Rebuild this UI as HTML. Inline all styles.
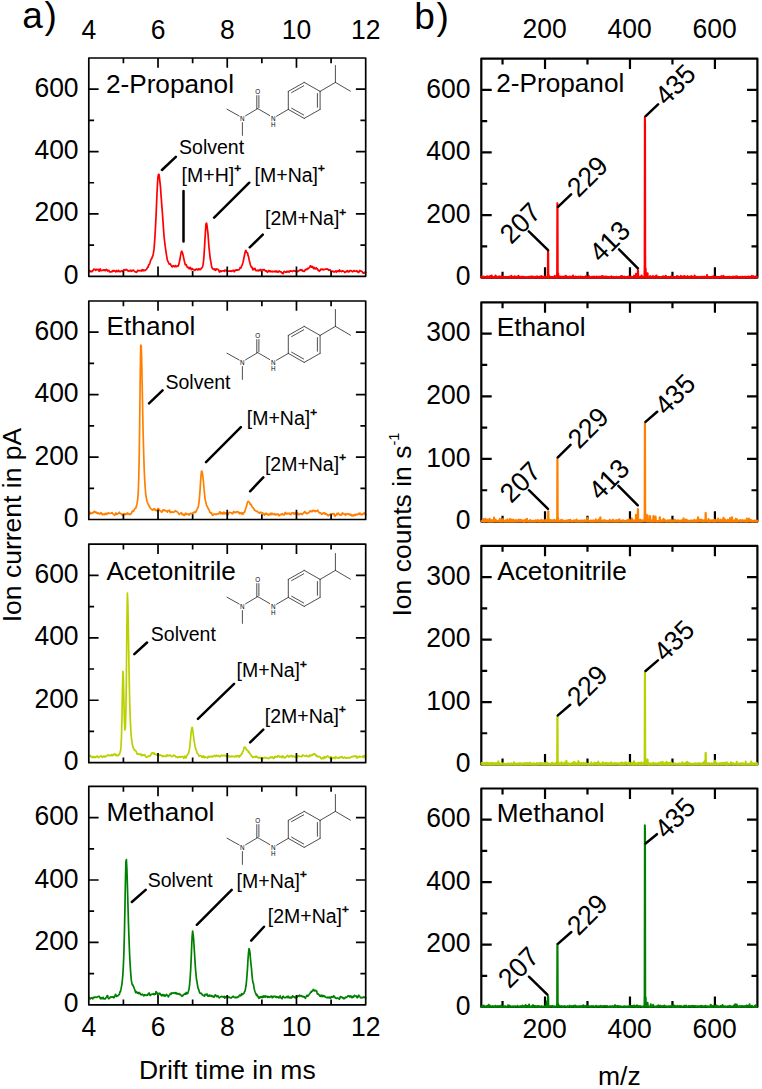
<!DOCTYPE html>
<html><head><meta charset="utf-8"><title>Figure</title>
<style>html,body{margin:0;padding:0;background:#fff}svg{display:block}text{font-family:"Liberation Sans", sans-serif;fill:#000}</style>
</head><body>
<svg width="762" height="1089" viewBox="0 0 762 1089">
<rect width="762" height="1089" fill="#fff"/>
<text x="22.2" y="28.2" font-size="37">a<tspan dx="1.6">)</tspan></text>
<text x="414.2" y="28.5" font-size="37">b<tspan dx="1.6">)</tspan></text>
<text transform="translate(88.8 38.7) scale(1 1.04)" font-size="26.5" text-anchor="middle">4</text>
<text transform="translate(88.8 1035.8) scale(1 1.04)" font-size="26.5" text-anchor="middle">4</text>
<text transform="translate(158.02 38.7) scale(1 1.04)" font-size="26.5" text-anchor="middle">6</text>
<text transform="translate(158.02 1035.8) scale(1 1.04)" font-size="26.5" text-anchor="middle">6</text>
<text transform="translate(227.25 38.7) scale(1 1.04)" font-size="26.5" text-anchor="middle">8</text>
<text transform="translate(227.25 1035.8) scale(1 1.04)" font-size="26.5" text-anchor="middle">8</text>
<text transform="translate(296.47 38.7) scale(1 1.04)" font-size="26.5" text-anchor="middle">10</text>
<text transform="translate(296.47 1035.8) scale(1 1.04)" font-size="26.5" text-anchor="middle">10</text>
<text transform="translate(365.7 38.7) scale(1 1.04)" font-size="26.5" text-anchor="middle">12</text>
<text transform="translate(365.7 1035.8) scale(1 1.04)" font-size="26.5" text-anchor="middle">12</text>
<text transform="translate(544.62 38.3) scale(1 1.04)" font-size="26.5" text-anchor="middle">200</text>
<text transform="translate(544.62 1037.8) scale(1 1.04)" font-size="26.5" text-anchor="middle">200</text>
<text transform="translate(629.57 38.3) scale(1 1.04)" font-size="26.5" text-anchor="middle">400</text>
<text transform="translate(629.57 1037.8) scale(1 1.04)" font-size="26.5" text-anchor="middle">400</text>
<text transform="translate(714.52 38.3) scale(1 1.04)" font-size="26.5" text-anchor="middle">600</text>
<text transform="translate(714.52 1037.8) scale(1 1.04)" font-size="26.5" text-anchor="middle">600</text>
<text x="227.3" y="1079.4" font-size="26.5" text-anchor="middle">Drift time in ms</text>
<text x="619.4" y="1085.2" font-size="26.5" text-anchor="middle">m/z</text>
<text transform="translate(20.9 622.3) rotate(-90)" font-size="26.5">Ion current in pA</text>
<text transform="translate(411.3 616.5) rotate(-90)" font-size="26.5">Ion counts in s<tspan font-size="14.5" dy="-12.5">-1</tspan></text>
<text transform="translate(78.6 283.8) scale(1 1.04)" font-size="26.5" text-anchor="end">0</text>
<text transform="translate(78.6 221.43) scale(1 1.04)" font-size="26.5" text-anchor="end">200</text>
<text transform="translate(78.6 159.06) scale(1 1.04)" font-size="26.5" text-anchor="end">400</text>
<text transform="translate(78.6 96.69) scale(1 1.04)" font-size="26.5" text-anchor="end">600</text>
<path d="M88.8 270.93L89.29 270.54L89.79 270.66L90.28 271.65L90.78 271.38L91.27 271.71L91.77 271.06L92.26 271.52L92.76 270.57L93.25 270.25L93.74 269.11L94.24 269.3L94.73 269.28L95.23 269.87L95.72 270.36L96.22 269.38L96.71 269.61L97.21 269.48L97.7 269.54L98.19 269.28L98.69 270.59L99.18 271.32L99.68 270.38L100.17 268.87L100.67 270.48L101.16 270.67L101.66 270.24L102.15 270.45L102.65 270.44L103.14 270.52L103.63 269.8L104.13 269.95L104.62 269.97L105.12 270.8L105.61 270.21L106.11 269.29L106.6 269.44L107.1 270.1L107.59 271.01L108.08 270.54L108.58 270.32L109.07 270.61L109.57 271.98L110.06 271.87L110.56 272.01L111.05 271.98L111.55 271.31L112.04 271.7L112.53 271.45L113.03 270.42L113.52 271.06L114.02 271L114.51 270.56L115.01 271.04L115.5 271.8L116 271.19L116.49 270.49L116.98 271.6L117.48 271.38L117.97 271.35L118.47 270.28L118.96 271.35L119.46 271.15L119.95 271.73L120.45 271.76L120.94 271.18L121.43 271.06L121.93 270.87L122.42 271.09L122.92 271.69L123.41 270.56L123.91 269.62L124.4 269.97L124.9 270.35L125.39 269.59L125.88 269.65L126.38 269.83L126.87 269.57L127.37 270.47L127.86 270.96L128.36 270.69L128.85 271.27L129.35 270.94L129.84 270.66L130.34 270.33L130.83 270.21L131.32 271.27L131.82 271.14L132.31 270.82L132.81 270.28L133.3 270.02L133.8 270.63L134.29 270.94L134.79 271.7L135.28 271.73L135.77 271.95L136.27 272.37L136.76 272.03L137.26 271.09L137.75 270.27L138.25 270.52L138.74 270.9L139.24 270.84L139.73 270.53L140.22 270.49L140.72 270.52L141.21 270.85L141.71 271.04L142.2 269.68L142.7 269.55L143.19 270.52L143.69 270.04L144.18 270.59L144.67 270.22L145.17 270.33L145.66 269.78L146.16 269.74L146.65 269.26L147.15 268.18L147.64 267.04L148.14 267.21L148.63 264.9L149.12 264.88L149.62 263.85L150.11 262.2L150.61 260.3L151.1 259.35L151.6 258.88L152.09 257.39L152.59 256.54L153.08 255.08L153.57 252.13L154.07 248.91L154.56 242.12L155.06 234.6L155.55 226.11L156.05 215.8L156.54 204.41L157.04 192.75L157.53 182.83L158.02 176.56L158.52 174.4L159.01 174.34L159.51 177.99L160 182.54L160.5 187.15L160.99 194.64L161.49 201.14L161.98 207.86L162.48 214.04L162.97 221.08L163.46 228.32L163.96 235.4L164.45 239.99L164.95 244.33L165.44 247.99L165.94 251.2L166.43 254.79L166.93 257.73L167.42 260.37L167.91 261.4L168.41 262.09L168.9 263.57L169.4 264.1L169.89 264.12L170.39 263.92L170.88 265.21L171.38 265.71L171.87 266.46L172.36 266.92L172.86 266.18L173.35 265.72L173.85 266.26L174.34 266.46L174.84 266.78L175.33 265.55L175.83 266.23L176.32 266.39L176.81 266.68L177.31 265.83L177.8 265.76L178.3 266.03L178.79 264.25L179.29 262.28L179.78 260.02L180.28 257.12L180.77 254.14L181.26 252L181.76 251.23L182.25 252.18L182.75 253.72L183.24 255.91L183.74 258.2L184.23 260.61L184.73 262.44L185.22 264.66L185.71 264.82L186.21 264.61L186.7 265.88L187.2 267.19L187.69 267.29L188.19 267.79L188.68 267.46L189.18 268.8L189.67 267.79L190.17 267.41L190.66 267.82L191.15 269.56L191.65 269.56L192.14 268.56L192.64 268.86L193.13 269.66L193.63 269.56L194.12 269.61L194.62 270.39L195.11 270.19L195.6 269.53L196.1 269.19L196.59 268.97L197.09 269.25L197.58 269.97L198.08 270.02L198.57 268.87L199.07 269L199.56 268.94L200.05 269.87L200.55 269.05L201.04 268.98L201.54 267.89L202.03 267.9L202.53 266.81L203.02 264.67L203.52 261.13L204.01 255.41L204.5 247.6L205 238.9L205.49 230.47L205.99 223.89L206.48 223.08L206.98 225.09L207.47 229.61L207.97 233.58L208.46 240.1L208.95 247.02L209.45 251.68L209.94 255.81L210.44 260.08L210.93 262.03L211.43 265.43L211.92 267.63L212.42 268.26L212.91 268.94L213.4 269.35L213.9 269.17L214.39 269.57L214.89 268.95L215.38 270.33L215.88 269.96L216.37 268.93L216.87 269.49L217.36 269.48L217.86 269.22L218.35 269.8L218.84 270.38L219.34 272.03L219.83 271.93L220.33 270.86L220.82 270.91L221.32 271.47L221.81 271.07L222.31 270.99L222.8 270.75L223.29 270.99L223.79 270.71L224.28 271.26L224.78 270.1L225.27 270.19L225.77 270.77L226.26 270.51L226.76 270.71L227.25 270.66L227.74 271.09L228.24 271.16L228.73 271.25L229.23 271.27L229.72 270.77L230.22 271.13L230.71 271.25L231.21 270.83L231.7 271.31L232.19 270.97L232.69 270.59L233.18 270.32L233.68 270.34L234.17 271.81L234.67 270.93L235.16 270.29L235.66 270.52L236.15 269.72L236.64 269.8L237.14 270.24L237.63 270.15L238.13 269.77L238.62 269.86L239.12 269.75L239.61 268.87L240.11 267.7L240.6 268L241.09 267.83L241.59 265.89L242.08 265.21L242.58 263.92L243.07 262.14L243.57 259.76L244.06 257.27L244.56 254.73L245.05 252.2L245.55 250.92L246.04 250.48L246.53 252.25L247.03 252.74L247.52 252.77L248.02 255.38L248.51 256.52L249.01 259.19L249.5 261.24L250 263.09L250.49 265.32L250.98 266.16L251.48 267.4L251.97 267.18L252.47 268.58L252.96 269.9L253.46 268.61L253.95 269.21L254.45 269.4L254.94 268.36L255.43 269.41L255.93 270.61L256.42 270.61L256.92 270.5L257.41 270.61L257.91 270.22L258.4 270.97L258.9 270.03L259.39 270.27L259.88 270.42L260.38 269.42L260.87 270.84L261.37 270.93L261.86 269.81L262.36 269.78L262.85 269.68L263.35 270.11L263.84 269.63L264.33 269.55L264.83 270.3L265.32 270.91L265.82 271.11L266.31 270.83L266.81 271L267.3 272.29L267.8 271.98L268.29 271.3L268.78 270.59L269.28 270.62L269.77 271.57L270.27 271.55L270.76 270.93L271.26 271.74L271.75 271.58L272.25 271.82L272.74 271.41L273.24 271.25L273.73 271.73L274.22 271.21L274.72 271.33L275.21 271.78L275.71 271.43L276.2 270.89L276.7 271.63L277.19 272.13L277.69 271.49L278.18 272.04L278.67 271.7L279.17 271L279.66 271.48L280.16 271.58L280.65 271.94L281.15 271.78L281.64 272.6L282.14 273.21L282.63 272.78L283.12 273.76L283.62 272.27L284.11 271.27L284.61 271.49L285.1 272.03L285.6 272.23L286.09 271.94L286.59 272.05L287.08 271.22L287.57 271.77L288.07 271.28L288.56 271.53L289.06 272.24L289.55 271.27L290.05 270.76L290.54 270.9L291.04 271.11L291.53 271.06L292.02 271.11L292.52 271.49L293.01 270.95L293.51 270.65L294 270.65L294.5 270.87L294.99 271.14L295.49 271.22L295.98 270.96L296.47 271.73L296.97 272.03L297.46 271.33L297.96 271.47L298.45 270.53L298.95 270.63L299.44 270.65L299.94 270L300.43 269.66L300.93 270.06L301.42 270.4L301.91 269.74L302.41 270.64L302.9 271.21L303.4 271.01L303.89 271.44L304.39 271.34L304.88 270.41L305.38 269.48L305.87 269.58L306.36 269.39L306.86 269.69L307.35 268.62L307.85 268.35L308.34 268.59L308.84 268.06L309.33 267.44L309.83 266.73L310.32 265.76L310.81 265.77L311.31 267.11L311.8 267.12L312.3 266.47L312.79 267.54L313.29 267.26L313.78 268.72L314.28 267.64L314.77 268.56L315.26 268.25L315.76 268.89L316.25 267.84L316.75 268.52L317.24 268.5L317.74 269.93L318.23 269.77L318.73 270.41L319.22 271.31L319.71 270.7L320.21 270.41L320.7 269.3L321.2 269.07L321.69 269.52L322.19 269.33L322.68 269.1L323.18 269.98L323.67 269.64L324.17 269.65L324.66 269.3L325.15 269.16L325.65 268.99L326.14 269.08L326.64 269.09L327.13 269.15L327.63 268.89L328.12 269.75L328.62 270.24L329.11 269.82L329.6 270.08L330.1 269.86L330.59 270.43L331.09 271.2L331.58 271.25L332.08 271.48L332.57 271.44L333.07 271.03L333.56 271.77L334.05 272.05L334.55 271.89L335.04 271.71L335.54 270.97L336.03 271.23L336.53 272.16L337.02 270.96L337.52 271.22L338.01 270.87L338.5 271.2L339 271.68L339.49 269.78L339.99 271.24L340.48 271.07L340.98 271.11L341.47 271.53L341.97 271.1L342.46 270.88L342.95 271.12L343.45 271.11L343.94 271.44L344.44 272.12L344.93 272.55L345.43 271.81L345.92 271.79L346.42 271.06L346.91 271.56L347.4 270.74L347.9 271.66L348.39 271.26L348.89 271.9L349.38 271.77L349.88 270.57L350.37 270.54L350.87 270.62L351.36 270.94L351.85 271.04L352.35 271.78L352.84 271.48L353.34 271.41L353.83 270.61L354.33 270.7L354.82 271.15L355.32 271.26L355.81 271.2L356.31 271.47L356.8 270.63L357.29 271.55L357.79 271.65L358.28 272.6L358.78 272.28L359.27 271.19L359.77 270.43L360.26 270.81L360.76 271.09L361.25 271.17L361.74 271.37L362.24 271.7L362.73 272.56L363.23 273.27L363.72 273.24L364.22 272.73L364.71 272.21L365.21 272.89L365.7 272.53" fill="none" stroke="#ff0000" stroke-width="1.7" stroke-linejoin="round" stroke-linecap="round"/>
<rect x="88.8" y="58" width="276.9" height="218.3" fill="none" stroke="#000" stroke-width="1.7" stroke-linejoin="round"/>
<path d="M158.02 58v9.8M158.02 276.3v-9.8M227.25 58v9.8M227.25 276.3v-9.8M296.47 58v9.8M296.47 276.3v-9.8M123.41 58v5.3M123.41 276.3v-5.3M192.64 58v5.3M192.64 276.3v-5.3M261.86 58v5.3M261.86 276.3v-5.3M331.09 58v5.3M331.09 276.3v-5.3M88.8 213.93h9.8M365.7 213.93h-9.8M88.8 151.56h9.8M365.7 151.56h-9.8M88.8 89.19h9.8M365.7 89.19h-9.8M88.8 245.11h5.3M365.7 245.11h-5.3M88.8 182.74h5.3M365.7 182.74h-5.3M88.8 120.37h5.3M365.7 120.37h-5.3" fill="none" stroke="#000" stroke-width="1.7"/>
<text x="105.9" y="92.5" font-size="26.2">2-Propanol</text>
<path d="M335.4 82.4L335.4 65.5M335.4 82.4L350.4 91.2M335.4 82.4L320.1 91.4M320.1 91.4L304.2 82.4M304.2 82.4L288.3 91.4M288.3 91.4L288.3 109.4M288.3 109.4L304.2 118.4M304.2 118.4L320.1 109.4M320.1 109.4L320.1 91.4M303.66 85.81L291.58 92.65M291.58 108.15L303.66 114.99M317.4 107.24L317.4 93.56M288.3 109.4L276.6 116.2M269.8 115.6L257.7 108.6M256.8 108.6L256.8 95.6M258.9 107.6L258.9 95.6M257.7 108.6L245.6 115.8M239.2 116L227 109.2M242.4 122.6L242.4 135.4" fill="none" stroke="#3a3a3a" stroke-width="0.9" stroke-linecap="round"/><text x="273.3" y="120.9" font-size="6.3" text-anchor="middle" fill="#333">N</text><text x="273.3" y="126.6" font-size="6.3" text-anchor="middle" fill="#333">H</text><text x="257.8" y="94" font-size="6.3" text-anchor="middle" fill="#333">O</text><text x="242.4" y="121" font-size="6.3" text-anchor="middle" fill="#333">N</text>
<path d="M161.94 169.99L175.86 156.81M183.5 191L183.5 241.4M214.13 217.58L249.27 182.72M249.73 247.28L262.77 234.62" stroke="#000" stroke-width="2.5" stroke-linecap="round" fill="none"/>
<text x="179.1" y="153.8" font-size="19.5">Solvent</text>
<text x="181.6" y="181.9" font-size="19.5">[M+H]<tspan font-size="11.6" dy="-9.6" stroke="#000" stroke-width="0.55">+</tspan></text>
<text x="254.6" y="181.8" font-size="19.5">[M+Na]<tspan font-size="11.6" dy="-9.6" stroke="#000" stroke-width="0.55">+</tspan></text>
<text x="265.1" y="225.3" font-size="19.5">[2M+Na]<tspan font-size="11.6" dy="-9.6" stroke="#000" stroke-width="0.55">+</tspan></text>
<text transform="translate(78.6 527) scale(1 1.04)" font-size="26.5" text-anchor="end">0</text>
<text transform="translate(78.6 464.57) scale(1 1.04)" font-size="26.5" text-anchor="end">200</text>
<text transform="translate(78.6 402.14) scale(1 1.04)" font-size="26.5" text-anchor="end">400</text>
<text transform="translate(78.6 339.71) scale(1 1.04)" font-size="26.5" text-anchor="end">600</text>
<path d="M88.8 513.53L89.29 513.55L89.79 512.03L90.28 512.81L90.78 513.81L91.27 513.32L91.77 513.15L92.26 512.74L92.76 513.16L93.25 512.29L93.74 512.35L94.24 511.22L94.73 511.81L95.23 512.35L95.72 511.96L96.22 512.09L96.71 513.19L97.21 512.86L97.7 513.59L98.19 512.87L98.69 513.59L99.18 513.43L99.68 514.06L100.17 513.75L100.67 512.95L101.16 512.67L101.66 513.62L102.15 514.58L102.65 513.87L103.14 514.33L103.63 514.65L104.13 513.93L104.62 514.71L105.12 513.89L105.61 513.27L106.11 513.57L106.6 514.29L107.1 514.26L107.59 513.18L108.08 513.38L108.58 512.83L109.07 513.24L109.57 513.41L110.06 513.44L110.56 513.49L111.05 513.39L111.55 512.99L112.04 512.55L112.53 513.11L113.03 513.89L113.52 514.14L114.02 514.44L114.51 515.26L115.01 514.47L115.5 514.5L116 512.94L116.49 513.53L116.98 514.38L117.48 513.75L117.97 513.66L118.47 513.08L118.96 513.21L119.46 512.25L119.95 513.29L120.45 513.32L120.94 513.76L121.43 514.05L121.93 514.94L122.42 514.06L122.92 514.97L123.41 514.26L123.91 513.83L124.4 513.64L124.9 514.75L125.39 513.92L125.88 514.38L126.38 513.97L126.87 514.21L127.37 512.92L127.86 513.73L128.36 513.94L128.85 513.72L129.35 514.62L129.84 514.47L130.34 514.18L130.83 513.65L131.32 513.64L131.82 512.23L132.31 511.23L132.81 510.95L133.3 511.37L133.8 510.96L134.29 509.57L134.79 508.64L135.28 508.34L135.77 508.32L136.27 506.52L136.76 504.67L137.26 502.46L137.75 498.6L138.25 492.06L138.74 478.97L139.24 455.61L139.73 419.32L140.22 376.1L140.72 345.15L141.21 345.57L141.71 360.72L142.2 385.77L142.7 411.53L143.19 435.5L143.69 453.34L144.18 469.02L144.67 479.38L145.17 487.25L145.66 493.55L146.16 497L146.65 499.73L147.15 501.52L147.64 503.07L148.14 503.99L148.63 504.81L149.12 506.33L149.62 506.45L150.11 507.64L150.61 508.76L151.1 508.95L151.6 509.48L152.09 509.73L152.59 510.21L153.08 509.38L153.57 508.96L154.07 509.71L154.56 508.97L155.06 509.46L155.55 510.17L156.05 510.75L156.54 510.22L157.04 510.27L157.53 510.1L158.02 508.39L158.52 508.68L159.01 509.47L159.51 510.52L160 510.7L160.5 510.98L160.99 511.1L161.49 512.24L161.98 511.35L162.48 511.64L162.97 509.8L163.46 510.28L163.96 509.85L164.45 509.98L164.95 510.75L165.44 510.59L165.94 510.91L166.43 511.08L166.93 511L167.42 512.13L167.91 510.75L168.41 510.51L168.9 510.84L169.4 510.12L169.89 511.19L170.39 512.75L170.88 511.94L171.38 512.22L171.87 511.92L172.36 512.09L172.86 512.02L173.35 512.49L173.85 512.23L174.34 511.64L174.84 511.58L175.33 510.76L175.83 511.05L176.32 511.36L176.81 511.7L177.31 511.74L177.8 512.23L178.3 513.24L178.79 513.71L179.29 514.46L179.78 513.98L180.28 513.55L180.77 513.14L181.26 512.56L181.76 513.24L182.25 514.68L182.75 514.63L183.24 514.24L183.74 515.19L184.23 515.35L184.73 515.39L185.22 513.54L185.71 513.1L186.21 513.97L186.7 514.33L187.2 514.18L187.69 514.01L188.19 513.94L188.68 514.73L189.18 515.04L189.67 513.77L190.17 513.9L190.66 513.3L191.15 513.57L191.65 513.51L192.14 513.41L192.64 513.63L193.13 512.78L193.63 512.45L194.12 512.71L194.62 512.61L195.11 511.53L195.6 512.31L196.1 511.43L196.59 510.46L197.09 509.23L197.58 508.01L198.08 507.72L198.57 505.07L199.07 502.08L199.56 496.6L200.05 490.09L200.55 481.89L201.04 475.21L201.54 471.11L202.03 471.48L202.53 474.21L203.02 478.24L203.52 482.47L204.01 488.68L204.5 493.31L205 498.37L205.49 500.91L205.99 502.57L206.48 504.99L206.98 506.2L207.47 506.71L207.97 508.24L208.46 509.01L208.95 509.58L209.45 511.08L209.94 512.32L210.44 512.61L210.93 513.16L211.43 512.66L211.92 514.19L212.42 514.98L212.91 515.35L213.4 514.37L213.9 514.15L214.39 514.03L214.89 514.1L215.38 514.24L215.88 514.52L216.37 514.09L216.87 514.11L217.36 513.82L217.86 513.88L218.35 513.81L218.84 513.79L219.34 512.55L219.83 511.84L220.33 512L220.82 513.89L221.32 513.41L221.81 512.63L222.31 512.75L222.8 513.98L223.29 513.91L223.79 512.06L224.28 512.72L224.78 513.83L225.27 513.64L225.77 512.8L226.26 512.86L226.76 513.63L227.25 514.65L227.74 513.75L228.24 514.38L228.73 513.1L229.23 512.24L229.72 512.26L230.22 512.49L230.71 512.68L231.21 512.85L231.7 513.25L232.19 513.6L232.69 513.8L233.18 512.38L233.68 511.46L234.17 512.04L234.67 512.06L235.16 512.61L235.66 512.64L236.15 511.94L236.64 511.77L237.14 511.68L237.63 511.83L238.13 511.85L238.62 512.8L239.12 512.44L239.61 513.73L240.11 513.26L240.6 512.91L241.09 512.63L241.59 513.87L242.08 512.73L242.58 513.33L243.07 514.26L243.57 513.13L244.06 512.18L244.56 512.17L245.05 510.43L245.55 509.07L246.04 507.46L246.53 506.46L247.03 503.83L247.52 502.2L248.02 501.32L248.51 501.75L249.01 502.08L249.5 502.4L250 503.97L250.49 504.69L250.98 504.32L251.48 505.43L251.97 506.39L252.47 507.53L252.96 507.76L253.46 508.08L253.95 508.96L254.45 510.08L254.94 510.18L255.43 510.25L255.93 511.09L256.42 511.24L256.92 511.38L257.41 511.35L257.91 511.83L258.4 512.61L258.9 512.66L259.39 513.03L259.88 513.07L260.38 512.25L260.87 512.2L261.37 512.72L261.86 512.83L262.36 512.83L262.85 512.96L263.35 513.57L263.84 513.97L264.33 515.27L264.83 514.71L265.32 513.28L265.82 514.17L266.31 513.32L266.81 514.31L267.3 514.68L267.8 513.94L268.29 514.87L268.78 515.14L269.28 514.27L269.77 514.66L270.27 514.29L270.76 513.06L271.26 514.53L271.75 514L272.25 513.33L272.74 514.1L273.24 514.59L273.73 514.27L274.22 514.19L274.72 513.61L275.21 515L275.71 514.96L276.2 514.26L276.7 514.15L277.19 514.61L277.69 514.17L278.18 514.01L278.67 514.78L279.17 515.77L279.66 515.12L280.16 514.86L280.65 514.48L281.15 514.1L281.64 514.65L282.14 514.76L282.63 513.72L283.12 514.24L283.62 514.8L284.11 515L284.61 514.13L285.1 512.76L285.6 512.5L286.09 513.91L286.59 513.74L287.08 514.07L287.57 513.35L288.07 513.29L288.56 513.53L289.06 513.97L289.55 513.02L290.05 514.17L290.54 514.16L291.04 514.59L291.53 513.54L292.02 512.73L292.52 512.85L293.01 512.64L293.51 513.1L294 514.27L294.5 513.96L294.99 512.69L295.49 513.49L295.98 513.11L296.47 514.34L296.97 513.81L297.46 513.04L297.96 513.25L298.45 514.65L298.95 514.26L299.44 514.65L299.94 513.76L300.43 513.64L300.93 513.81L301.42 513.67L301.91 514.41L302.41 514.3L302.9 513.61L303.4 513.43L303.89 512.41L304.39 512.49L304.88 511.49L305.38 512.85L305.87 513.1L306.36 512.97L306.86 513.77L307.35 513.1L307.85 513.11L308.34 512.84L308.84 512.65L309.33 512.04L309.83 511.24L310.32 511.42L310.81 510.74L311.31 511.59L311.8 511.47L312.3 511.55L312.79 510.6L313.29 510.4L313.78 510.86L314.28 510.65L314.77 510.77L315.26 511.72L315.76 510.78L316.25 511.14L316.75 510.97L317.24 510.74L317.74 510.07L318.23 511.04L318.73 512.01L319.22 512.78L319.71 513.03L320.21 512.73L320.7 513L321.2 513.46L321.69 514.26L322.19 514.23L322.68 513.31L323.18 513.14L323.67 513.3L324.17 512.78L324.66 512.81L325.15 514.2L325.65 513.66L326.14 514.36L326.64 513.91L327.13 514.65L327.63 514.87L328.12 515.79L328.62 515.63L329.11 514.9L329.6 514.68L330.1 514.07L330.59 514.33L331.09 514.01L331.58 513.93L332.08 513.96L332.57 513.74L333.07 514.43L333.56 513.63L334.05 513.54L334.55 515.48L335.04 516.37L335.54 515.33L336.03 514.68L336.53 515.07L337.02 513.35L337.52 514.08L338.01 513.73L338.5 513.23L339 514.09L339.49 515L339.99 514.84L340.48 515.09L340.98 514.27L341.47 515.11L341.97 514.11L342.46 512.77L342.95 513.47L343.45 514.03L343.94 513.79L344.44 513.94L344.93 514.6L345.43 515.29L345.92 513.73L346.42 514.53L346.91 514.35L347.4 514L347.9 513.68L348.39 513.73L348.89 514.6L349.38 514.3L349.88 514.07L350.37 515.05L350.87 514.47L351.36 515.69L351.85 515.18L352.35 515.69L352.84 515.89L353.34 514.99L353.83 515.76L354.33 515.11L354.82 514.43L355.32 515.32L355.81 515.11L356.31 514.19L356.8 514.75L357.29 514.66L357.79 514.17L358.28 514L358.78 513.42L359.27 514.29L359.77 513.15L360.26 513.29L360.76 513.93L361.25 514.93L361.74 514.13L362.24 514.15L362.73 514.5L363.23 513.71L363.72 513.23L364.22 512.95L364.71 514.01L365.21 514.45L365.7 514.88" fill="none" stroke="#ff8000" stroke-width="1.7" stroke-linejoin="round" stroke-linecap="round"/>
<rect x="88.8" y="301" width="276.9" height="218.5" fill="none" stroke="#000" stroke-width="1.7" stroke-linejoin="round"/>
<path d="M158.02 301v9.8M158.02 519.5v-9.8M227.25 301v9.8M227.25 519.5v-9.8M296.47 301v9.8M296.47 519.5v-9.8M123.41 301v5.3M123.41 519.5v-5.3M192.64 301v5.3M192.64 519.5v-5.3M261.86 301v5.3M261.86 519.5v-5.3M331.09 301v5.3M331.09 519.5v-5.3M88.8 457.07h9.8M365.7 457.07h-9.8M88.8 394.64h9.8M365.7 394.64h-9.8M88.8 332.21h9.8M365.7 332.21h-9.8M88.8 488.29h5.3M365.7 488.29h-5.3M88.8 425.86h5.3M365.7 425.86h-5.3M88.8 363.43h5.3M365.7 363.43h-5.3" fill="none" stroke="#000" stroke-width="1.7"/>
<text x="106.6" y="335.1" font-size="26.2">Ethanol</text>
<path d="M335.4 326.4L335.4 309.5M335.4 326.4L350.4 335.2M335.4 326.4L320.1 335.4M320.1 335.4L304.2 326.4M304.2 326.4L288.3 335.4M288.3 335.4L288.3 353.4M288.3 353.4L304.2 362.4M304.2 362.4L320.1 353.4M320.1 353.4L320.1 335.4M303.66 329.81L291.58 336.65M291.58 352.15L303.66 358.99M317.4 351.24L317.4 337.56M288.3 353.4L276.6 360.2M269.8 359.6L257.7 352.6M256.8 352.6L256.8 339.6M258.9 351.6L258.9 339.6M257.7 352.6L245.6 359.8M239.2 360L227 353.2M242.4 366.6L242.4 379.4" fill="none" stroke="#3a3a3a" stroke-width="0.9" stroke-linecap="round"/><text x="273.3" y="364.9" font-size="6.3" text-anchor="middle" fill="#333">N</text><text x="273.3" y="370.6" font-size="6.3" text-anchor="middle" fill="#333">H</text><text x="257.8" y="338" font-size="6.3" text-anchor="middle" fill="#333">O</text><text x="242.4" y="365" font-size="6.3" text-anchor="middle" fill="#333">N</text>
<path d="M149.03 403.38L162.57 390.42M206.02 462.17L240.88 427.13M250.11 491.27L263.29 477.43" stroke="#000" stroke-width="2.5" stroke-linecap="round" fill="none"/>
<text x="165.5" y="389.2" font-size="19.5">Solvent</text>
<text x="246.8" y="425.3" font-size="19.5">[M+Na]<tspan font-size="11.6" dy="-9.6" stroke="#000" stroke-width="0.55">+</tspan></text>
<text x="264.9" y="470.8" font-size="19.5">[2M+Na]<tspan font-size="11.6" dy="-9.6" stroke="#000" stroke-width="0.55">+</tspan></text>
<text transform="translate(78.6 770.2) scale(1 1.04)" font-size="26.5" text-anchor="end">0</text>
<text transform="translate(78.6 707.74) scale(1 1.04)" font-size="26.5" text-anchor="end">200</text>
<text transform="translate(78.6 645.29) scale(1 1.04)" font-size="26.5" text-anchor="end">400</text>
<text transform="translate(78.6 582.83) scale(1 1.04)" font-size="26.5" text-anchor="end">600</text>
<path d="M88.8 756.05L89.29 755.73L89.79 755.76L90.28 755.48L90.78 756.43L91.27 756.89L91.77 757.33L92.26 757.55L92.76 756.65L93.25 756.6L93.74 757.19L94.24 757.49L94.73 756.65L95.23 757.35L95.72 757.43L96.22 756.96L96.71 756.32L97.21 755.93L97.7 756.62L98.19 757.37L98.69 757.69L99.18 757.09L99.68 756.84L100.17 756.19L100.67 756L101.16 755.75L101.66 756.65L102.15 757.15L102.65 756.86L103.14 756.46L103.63 756.8L104.13 755.92L104.62 756.89L105.12 756.61L105.61 756.81L106.11 756.2L106.6 755.76L107.1 755.87L107.59 755.51L108.08 754.76L108.58 755.27L109.07 755.48L109.57 755.62L110.06 755.3L110.56 755.35L111.05 755.71L111.55 754.61L112.04 754.94L112.53 755.66L113.03 754.65L113.52 755.02L114.02 754.39L114.51 753.82L115.01 754.64L115.5 755.24L116 754.46L116.49 755.48L116.98 755.81L117.48 755.75L117.97 755.63L118.47 754.4L118.96 754.22L119.46 754.64L119.95 752.69L120.45 751.01L120.94 747.88L121.43 738.3L121.93 719.46L122.42 691.33L122.92 671.4L123.41 679.43L123.91 701.7L124.4 720.99L124.9 729.95L125.39 727.97L125.88 711.68L126.38 677.86L126.87 626.84L127.37 593.09L127.86 603.33L128.36 629.98L128.85 659.91L129.35 686.5L129.84 706.46L130.34 720.64L130.83 730.22L131.32 737.11L131.82 741.01L132.31 744.02L132.81 746.61L133.3 747.93L133.8 748.7L134.29 750L134.79 749.94L135.28 750.74L135.77 751.01L136.27 751.52L136.76 753.15L137.26 754.22L137.75 753.76L138.25 754.05L138.74 754.35L139.24 754.06L139.73 754.07L140.22 754.18L140.72 754.91L141.21 754.2L141.71 755.67L142.2 754.92L142.7 755.32L143.19 754.91L143.69 755.11L144.18 755.14L144.67 754.62L145.17 755.41L145.66 756.61L146.16 756.57L146.65 757.42L147.15 757.05L147.64 756.9L148.14 756.15L148.63 756.24L149.12 755.74L149.62 756.3L150.11 755.58L150.61 755.29L151.1 754.38L151.6 753.06L152.09 752.97L152.59 752.74L153.08 753.46L153.57 753.78L154.07 752.81L154.56 754.19L155.06 754.41L155.55 754.31L156.05 754.14L156.54 754.91L157.04 755.14L157.53 755.05L158.02 754.66L158.52 755.09L159.01 755.5L159.51 754.98L160 754.8L160.5 755.48L160.99 755.41L161.49 755.6L161.98 755.6L162.48 756.49L162.97 756.02L163.46 755.92L163.96 756.48L164.45 756.18L164.95 756.47L165.44 756.51L165.94 756.37L166.43 755.1L166.93 754.93L167.42 755.95L167.91 755.39L168.41 755.89L168.9 755.36L169.4 755.4L169.89 755.17L170.39 755.22L170.88 756L171.38 756.54L171.87 756.48L172.36 756.44L172.86 756L173.35 755.16L173.85 755.82L174.34 755.34L174.84 755.82L175.33 756.08L175.83 757.04L176.32 757.05L176.81 756.79L177.31 757.11L177.8 757.55L178.3 757.42L178.79 756.8L179.29 756.56L179.78 757.22L180.28 756.77L180.77 757.08L181.26 757.35L181.76 756.55L182.25 756.54L182.75 756.65L183.24 756.77L183.74 758.31L184.23 757.07L184.73 756.04L185.22 757.43L185.71 758.08L186.21 757.22L186.7 755.79L187.2 755.08L187.69 754.23L188.19 753.89L188.68 752.93L189.18 750.37L189.67 747.93L190.17 742.83L190.66 737.44L191.15 732.32L191.65 728.86L192.14 727.3L192.64 729.22L193.13 733.19L193.63 736.86L194.12 741.08L194.62 743.33L195.11 746.6L195.6 748.64L196.1 750.11L196.59 750.92L197.09 753.07L197.58 753.41L198.08 754.33L198.57 754.81L199.07 756.26L199.56 755.98L200.05 755.83L200.55 755.77L201.04 755.66L201.54 756.37L202.03 757.25L202.53 756.63L203.02 757.34L203.52 755.75L204.01 756.41L204.5 757.67L205 756.92L205.49 757.01L205.99 757.37L206.48 757.48L206.98 757.43L207.47 757.99L207.97 757.01L208.46 756.39L208.95 756.62L209.45 757.14L209.94 756.88L210.44 756.32L210.93 756.31L211.43 756.63L211.92 756.48L212.42 757.17L212.91 756.48L213.4 755.73L213.9 755.64L214.39 755.5L214.89 755.59L215.38 756.56L215.88 755.67L216.37 755.25L216.87 756.14L217.36 756.21L217.86 755.69L218.35 755.53L218.84 756.23L219.34 756.6L219.83 756.86L220.33 756.21L220.82 755.57L221.32 755.24L221.81 755.61L222.31 755.52L222.8 755.88L223.29 755.26L223.79 755.47L224.28 755.79L224.78 755.18L225.27 755.5L225.77 755.85L226.26 756.41L226.76 756.26L227.25 755.4L227.74 756.29L228.24 755.65L228.73 756.48L229.23 756.82L229.72 756.06L230.22 756.7L230.71 756.75L231.21 756.84L231.7 756.04L232.19 756.01L232.69 756.54L233.18 756.8L233.68 756.54L234.17 756.97L234.67 756.51L235.16 756.03L235.66 755.96L236.15 756.82L236.64 756.02L237.14 756.28L237.63 755.62L238.13 755.74L238.62 756.1L239.12 757.11L239.61 755.7L240.11 756.13L240.6 755.57L241.09 754.73L241.59 753.66L242.08 753.83L242.58 751.92L243.07 751.35L243.57 750.12L244.06 747.65L244.56 747.2L245.05 747.22L245.55 748.23L246.04 748.42L246.53 750.14L247.03 750.15L247.52 750.3L248.02 751.06L248.51 752.35L249.01 751.89L249.5 752.93L250 753.91L250.49 754.39L250.98 755.29L251.48 755.84L251.97 756.58L252.47 756.74L252.96 757.54L253.46 756.86L253.95 756.94L254.45 756.97L254.94 756.74L255.43 757.08L255.93 756.09L256.42 757.18L256.92 757.07L257.41 756.85L257.91 757.24L258.4 757.86L258.9 758.3L259.39 757.39L259.88 757.64L260.38 757.45L260.87 758.56L261.37 758.54L261.86 758L262.36 758L262.85 757.96L263.35 758.37L263.84 757.67L264.33 757.86L264.83 757.52L265.32 757.4L265.82 757.91L266.31 757.9L266.81 757.78L267.3 758.2L267.8 757.98L268.29 758.18L268.78 758.64L269.28 758.09L269.77 757.68L270.27 757.14L270.76 756.95L271.26 757.5L271.75 757.75L272.25 756.89L272.74 757.31L273.24 758.08L273.73 758.44L274.22 758.1L274.72 756.61L275.21 757.37L275.71 756.38L276.2 756.86L276.7 756.9L277.19 757.21L277.69 756.01L278.18 755.53L278.67 756.34L279.17 756.16L279.66 757.09L280.16 757.06L280.65 756.67L281.15 756.79L281.64 756.4L282.14 757.6L282.63 755.93L283.12 756.37L283.62 757.4L284.11 757.49L284.61 757.92L285.1 757.87L285.6 756.85L286.09 756.82L286.59 756.19L287.08 755.87L287.57 755.28L288.07 756.39L288.56 757.12L289.06 756.88L289.55 756.18L290.05 755.81L290.54 756.33L291.04 756.33L291.53 755.65L292.02 755.51L292.52 756.88L293.01 756.42L293.51 756.08L294 756.16L294.5 756.45L294.99 757.44L295.49 756.89L295.98 756.25L296.47 755.99L296.97 757.27L297.46 756.38L297.96 756.05L298.45 755.68L298.95 756.43L299.44 756.29L299.94 756.69L300.43 756.57L300.93 756.4L301.42 756.09L301.91 756.72L302.41 755.93L302.9 754.91L303.4 755.38L303.89 755.54L304.39 755.78L304.88 756.07L305.38 756.17L305.87 756.3L306.36 755.32L306.86 755.47L307.35 756.19L307.85 756.49L308.34 756.33L308.84 756.74L309.33 755.88L309.83 755.07L310.32 755.81L310.81 755.8L311.31 755.48L311.8 755.3L312.3 754.29L312.79 755.04L313.29 754.68L313.78 754.29L314.28 753.54L314.77 754.27L315.26 754.72L315.76 754.64L316.25 756.1L316.75 756.43L317.24 755.93L317.74 756.7L318.23 756.68L318.73 756.51L319.22 756.75L319.71 756.66L320.21 757.14L320.7 758.11L321.2 758.62L321.69 758.95L322.19 758.04L322.68 757.92L323.18 758.07L323.67 758.62L324.17 756.7L324.66 756.9L325.15 757.87L325.65 757.34L326.14 757.41L326.64 756.98L327.13 756.28L327.63 755.96L328.12 756.46L328.62 756.86L329.11 757.21L329.6 757.93L330.1 758.19L330.59 756.72L331.09 757.14L331.58 757.7L332.08 757.76L332.57 758.64L333.07 757.65L333.56 757.77L334.05 757.43L334.55 757.65L335.04 758.6L335.54 756.91L336.03 757.06L336.53 757.61L337.02 757.93L337.52 757.74L338.01 757.66L338.5 758.06L339 758.2L339.49 757.64L339.99 756.83L340.48 757.69L340.98 757.53L341.47 756.98L341.97 756.53L342.46 757.43L342.95 758.03L343.45 758.22L343.94 757.72L344.44 757.03L344.93 757.29L345.43 757.96L345.92 758.24L346.42 757.66L346.91 757.9L347.4 757.96L347.9 757.69L348.39 757.78L348.89 757.56L349.38 758.11L349.88 757.8L350.37 757.22L350.87 757.3L351.36 756.98L351.85 756.68L352.35 756.9L352.84 756.34L353.34 756.26L353.83 756.15L354.33 756.53L354.82 756.56L355.32 755.96L355.81 756.51L356.31 756.04L356.8 757.83L357.29 757.98L357.79 757.58L358.28 756.67L358.78 756.64L359.27 757.06L359.77 756.26L360.26 756.55L360.76 756.72L361.25 756.86L361.74 756.93L362.24 756.86L362.73 756.33L363.23 755.95L363.72 757.6L364.22 755.64L364.71 756.4L365.21 756.27L365.7 757" fill="none" stroke="#b9d100" stroke-width="1.7" stroke-linejoin="round" stroke-linecap="round"/>
<rect x="88.8" y="544.1" width="276.9" height="218.6" fill="none" stroke="#000" stroke-width="1.7" stroke-linejoin="round"/>
<path d="M158.02 544.1v9.8M158.02 762.7v-9.8M227.25 544.1v9.8M227.25 762.7v-9.8M296.47 544.1v9.8M296.47 762.7v-9.8M123.41 544.1v5.3M123.41 762.7v-5.3M192.64 544.1v5.3M192.64 762.7v-5.3M261.86 544.1v5.3M261.86 762.7v-5.3M331.09 544.1v5.3M331.09 762.7v-5.3M88.8 700.24h9.8M365.7 700.24h-9.8M88.8 637.79h9.8M365.7 637.79h-9.8M88.8 575.33h9.8M365.7 575.33h-9.8M88.8 731.47h5.3M365.7 731.47h-5.3M88.8 669.01h5.3M365.7 669.01h-5.3M88.8 606.56h5.3M365.7 606.56h-5.3" fill="none" stroke="#000" stroke-width="1.7"/>
<text x="106.4" y="579.6" font-size="26.2">Acetonitrile</text>
<path d="M335.4 570.4L335.4 553.5M335.4 570.4L350.4 579.2M335.4 570.4L320.1 579.4M320.1 579.4L304.2 570.4M304.2 570.4L288.3 579.4M288.3 579.4L288.3 597.4M288.3 597.4L304.2 606.4M304.2 606.4L320.1 597.4M320.1 597.4L320.1 579.4M303.66 573.81L291.58 580.65M291.58 596.15L303.66 602.99M317.4 595.24L317.4 581.56M288.3 597.4L276.6 604.2M269.8 603.6L257.7 596.6M256.8 596.6L256.8 583.6M258.9 595.6L258.9 583.6M257.7 596.6L245.6 603.8M239.2 604L227 597.2M242.4 610.6L242.4 623.4" fill="none" stroke="#3a3a3a" stroke-width="0.9" stroke-linecap="round"/><text x="273.3" y="608.9" font-size="6.3" text-anchor="middle" fill="#333">N</text><text x="273.3" y="614.6" font-size="6.3" text-anchor="middle" fill="#333">H</text><text x="257.8" y="582" font-size="6.3" text-anchor="middle" fill="#333">O</text><text x="242.4" y="609" font-size="6.3" text-anchor="middle" fill="#333">N</text>
<path d="M134.34 654.19L147.06 642.51M197.93 718.88L234.07 683.82M250.13 742.38L263.27 729.62" stroke="#000" stroke-width="2.5" stroke-linecap="round" fill="none"/>
<text x="150.8" y="641" font-size="19.5">Solvent</text>
<text x="236.6" y="677.1" font-size="19.5">[M+Na]<tspan font-size="11.6" dy="-9.6" stroke="#000" stroke-width="0.55">+</tspan></text>
<text x="264.8" y="722.6" font-size="19.5">[2M+Na]<tspan font-size="11.6" dy="-9.6" stroke="#000" stroke-width="0.55">+</tspan></text>
<text transform="translate(78.6 1012.3) scale(1 1.04)" font-size="26.5" text-anchor="end">0</text>
<text transform="translate(78.6 949.9) scale(1 1.04)" font-size="26.5" text-anchor="end">200</text>
<text transform="translate(78.6 887.5) scale(1 1.04)" font-size="26.5" text-anchor="end">400</text>
<text transform="translate(78.6 825.1) scale(1 1.04)" font-size="26.5" text-anchor="end">600</text>
<path d="M88.8 997.17L89.29 997.57L89.79 997.89L90.28 998.89L90.78 998.33L91.27 997.81L91.77 998.03L92.26 998.07L92.76 998.89L93.25 997.4L93.74 997.25L94.24 997.62L94.73 997.18L95.23 997.1L95.72 997.2L96.22 997.44L96.71 997.39L97.21 997.1L97.7 996.69L98.19 996.45L98.69 996.61L99.18 996.36L99.68 996.95L100.17 998.2L100.67 998.84L101.16 997.64L101.66 998.66L102.15 998.68L102.65 998.16L103.14 997.27L103.63 998.79L104.13 999.02L104.62 998.95L105.12 998.88L105.61 998.36L106.11 997.55L106.6 997.24L107.1 995.63L107.59 995.56L108.08 997.47L108.58 998.62L109.07 998.42L109.57 998.34L110.06 997.35L110.56 997.09L111.05 996.8L111.55 997.15L112.04 997L112.53 996.91L113.03 997.21L113.52 996.77L114.02 997.77L114.51 996.68L115.01 996.2L115.5 994.32L116 995.1L116.49 996.36L116.98 996.27L117.48 995.72L117.97 995.55L118.47 995.48L118.96 994.53L119.46 994.26L119.95 991.92L120.45 991.74L120.94 989.44L121.43 986.78L121.93 984.09L122.42 979.58L122.92 973.99L123.41 964.82L123.91 952.41L124.4 934.26L124.9 909.88L125.39 882.77L125.88 861.76L126.38 859.63L126.87 868.57L127.37 884.31L127.86 901.59L128.36 919.79L128.85 934.67L129.35 948.3L129.84 959.31L130.34 967.67L130.83 974.56L131.32 980.15L131.82 982.72L132.31 984.93L132.81 984.79L133.3 986.27L133.8 987.16L134.29 988.47L134.79 989.71L135.28 991.47L135.77 992.54L136.27 991.52L136.76 992.4L137.26 993.01L137.75 992.67L138.25 993.23L138.74 993.66L139.24 992.47L139.73 992.98L140.22 993.82L140.72 994.34L141.21 994.88L141.71 994.49L142.2 994.17L142.7 994.76L143.19 994.88L143.69 995.84L144.18 995.52L144.67 994.68L145.17 995.3L145.66 995.07L146.16 995.32L146.65 995.28L147.15 994.73L147.64 995.23L148.14 994.1L148.63 993.34L149.12 992.97L149.62 994.11L150.11 995.37L150.61 995.16L151.1 994.55L151.6 994.32L152.09 994.26L152.59 994.07L153.08 994.21L153.57 993.61L154.07 994.64L154.56 994.02L155.06 993.59L155.55 994.07L156.05 991.54L156.54 992.4L157.04 992.9L157.53 994.17L158.02 993.92L158.52 993.84L159.01 993.24L159.51 993.99L160 993.4L160.5 994.71L160.99 994.59L161.49 995.75L161.98 995.27L162.48 994.54L162.97 995.69L163.46 994.89L163.96 994.63L164.45 995.86L164.95 996.15L165.44 996.03L165.94 995.27L166.43 994.27L166.93 995.04L167.42 995.62L167.91 995.51L168.41 996.9L168.9 995.52L169.4 995.06L169.89 994.81L170.39 993.49L170.88 993.72L171.38 994.04L171.87 992.97L172.36 993.25L172.86 993.02L173.35 993.09L173.85 992.93L174.34 992.72L174.84 992.59L175.33 993.57L175.83 992.6L176.32 993.29L176.81 993.81L177.31 993.39L177.8 994.13L178.3 994.04L178.79 993.66L179.29 993.68L179.78 994.63L180.28 994.28L180.77 994.91L181.26 995.66L181.76 996.12L182.25 995.62L182.75 995.97L183.24 994.83L183.74 994.48L184.23 994.36L184.73 993.84L185.22 993.55L185.71 994.35L186.21 992.48L186.7 993.75L187.2 993.05L187.69 993.49L188.19 992.04L188.68 990.32L189.18 988.39L189.67 983.67L190.17 977.78L190.66 969.71L191.15 959.88L191.65 946.58L192.14 936.17L192.64 931.21L193.13 934.57L193.63 939.04L194.12 947.19L194.62 954.79L195.11 963.08L195.6 969.94L196.1 975.3L196.59 980.02L197.09 982.28L197.58 985.77L198.08 988.31L198.57 989.25L199.07 990.67L199.56 992.42L200.05 993.16L200.55 993.07L201.04 993.59L201.54 993.32L202.03 994.74L202.53 994.65L203.02 995.36L203.52 995.54L204.01 995.85L204.5 996.2L205 994.36L205.49 994.79L205.99 994.64L206.48 994.84L206.98 993.94L207.47 995.06L207.97 996.16L208.46 995.54L208.95 996.21L209.45 995.03L209.94 995.93L210.44 996.01L210.93 995.46L211.43 996.31L211.92 996.26L212.42 995.85L212.91 996.79L213.4 996.45L213.9 997.12L214.39 996.73L214.89 995.37L215.38 994.8L215.88 995.54L216.37 995.98L216.87 996.59L217.36 995.98L217.86 995.72L218.35 996.96L218.84 997.39L219.34 997.88L219.83 997.25L220.33 996.89L220.82 996.79L221.32 996.47L221.81 996.34L222.31 996.68L222.8 996.55L223.29 997.17L223.79 996.73L224.28 996.32L224.78 998.16L225.27 996.77L225.77 997.12L226.26 996.81L226.76 997.09L227.25 996.28L227.74 996.85L228.24 996.89L228.73 997.51L229.23 997.49L229.72 997.2L230.22 997.94L230.71 997.81L231.21 997.98L231.7 997.64L232.19 996.87L232.69 996.95L233.18 996.23L233.68 997.08L234.17 997.31L234.67 997.3L235.16 997.73L235.66 997.11L236.15 997.44L236.64 997.62L237.14 997.03L237.63 997.33L238.13 996.96L238.62 996.77L239.12 995.84L239.61 995.05L240.11 995.13L240.6 995.87L241.09 995.21L241.59 993.69L242.08 994.51L242.58 994.71L243.07 993.59L243.57 993.57L244.06 993.31L244.56 991.59L245.05 991.04L245.55 988.18L246.04 985.79L246.53 980.87L247.03 975L247.52 968.07L248.02 959.01L248.51 952.77L249.01 948.68L249.5 949.94L250 952.85L250.49 959.11L250.98 964.11L251.48 968.63L251.97 974.83L252.47 979.45L252.96 982.61L253.46 983.55L253.95 986.97L254.45 989.97L254.94 991.43L255.43 992.78L255.93 993.95L256.42 995.33L256.92 994.41L257.41 996.03L257.91 996.12L258.4 997.35L258.9 998.32L259.39 997.1L259.88 997.76L260.38 996.76L260.87 996.68L261.37 997.31L261.86 996.58L262.36 997.55L262.85 996.69L263.35 995.96L263.84 997.15L264.33 996.86L264.83 995.78L265.32 995.99L265.82 997.13L266.31 996.26L266.81 996.41L267.3 996.37L267.8 997.38L268.29 996.83L268.78 996.58L269.28 997.39L269.77 996.76L270.27 996.97L270.76 996.35L271.26 996.03L271.75 996.94L272.25 997.76L272.74 996.51L273.24 996.28L273.73 997L274.22 996.29L274.72 996.26L275.21 996.35L275.71 997.03L276.2 997.48L276.7 996.54L277.19 996.92L277.69 997.28L278.18 996.91L278.67 997.83L279.17 997.72L279.66 997.6L280.16 995.78L280.65 997.61L281.15 997.57L281.64 997.99L282.14 998.86L282.63 996.89L283.12 996.12L283.62 997.03L284.11 997.42L284.61 997.6L285.1 997.62L285.6 997.77L286.09 997.43L286.59 996.7L287.08 996.74L287.57 996.38L288.07 997.68L288.56 996.41L289.06 997.17L289.55 997.78L290.05 998.04L290.54 997.24L291.04 997.2L291.53 997.88L292.02 997.54L292.52 995.91L293.01 996.21L293.51 996.73L294 997.29L294.5 996.85L294.99 997.52L295.49 997.3L295.98 997.86L296.47 996.88L296.97 997.42L297.46 996.21L297.96 995.89L298.45 996.21L298.95 995.66L299.44 995.27L299.94 996.44L300.43 995.55L300.93 995.68L301.42 995.58L301.91 996.41L302.41 996.75L302.9 996.2L303.4 996.83L303.89 997.03L304.39 996.57L304.88 997.6L305.38 998.35L305.87 997.06L306.36 996.37L306.86 995.33L307.35 995.39L307.85 996.32L308.34 995.54L308.84 994.95L309.33 994.17L309.83 993.56L310.32 992.88L310.81 991.99L311.31 992.19L311.8 991.11L312.3 991.19L312.79 990.7L313.29 989.42L313.78 989.8L314.28 990.66L314.77 990.94L315.26 990.51L315.76 990.34L316.25 990.95L316.75 991.25L317.24 993.81L317.74 994.15L318.23 993.97L318.73 994.74L319.22 994.83L319.71 995.9L320.21 996.11L320.7 995.45L321.2 996.55L321.69 995.22L322.19 995.89L322.68 996.53L323.18 995.46L323.67 996.38L324.17 996.15L324.66 995.94L325.15 996.92L325.65 997.25L326.14 997.34L326.64 997.47L327.13 997.9L327.63 997.08L328.12 997.07L328.62 997.92L329.11 997.95L329.6 997.1L330.1 998L330.59 998.04L331.09 996.9L331.58 996.6L332.08 997.05L332.57 997.03L333.07 997.1L333.56 995.85L334.05 996.02L334.55 996.5L335.04 997.62L335.54 998.04L336.03 997.98L336.53 998.44L337.02 998.18L337.52 998.06L338.01 998.2L338.5 998.34L339 998.95L339.49 999.19L339.99 997.32L340.48 996.61L340.98 996.85L341.47 996.91L341.97 997.2L342.46 997.98L342.95 997.71L343.45 998.71L343.94 998.21L344.44 998.57L344.93 998.22L345.43 997.16L345.92 997.37L346.42 997.45L346.91 996.94L347.4 996.77L347.9 995.91L348.39 996.09L348.89 995.74L349.38 996.42L349.88 996.98L350.37 996.34L350.87 995.82L351.36 996.99L351.85 997.76L352.35 997.63L352.84 996.46L353.34 997.04L353.83 996.57L354.33 995.33L354.82 995.62L355.32 996.04L355.81 996.16L356.31 995.86L356.8 997.4L357.29 997.73L357.79 997.42L358.28 995.92L358.78 995.12L359.27 996.07L359.77 996.25L360.26 997.48L360.76 997.78L361.25 997.5L361.74 997.83L362.24 997.39L362.73 997.64L363.23 997.46L363.72 996.92L364.22 997.47L364.71 997.35L365.21 997.41L365.7 997.9" fill="none" stroke="#008000" stroke-width="1.7" stroke-linejoin="round" stroke-linecap="round"/>
<rect x="88.8" y="786.4" width="276.9" height="218.4" fill="none" stroke="#000" stroke-width="1.7" stroke-linejoin="round"/>
<path d="M158.02 786.4v9.8M158.02 1004.8v-9.8M227.25 786.4v9.8M227.25 1004.8v-9.8M296.47 786.4v9.8M296.47 1004.8v-9.8M123.41 786.4v5.3M123.41 1004.8v-5.3M192.64 786.4v5.3M192.64 1004.8v-5.3M261.86 786.4v5.3M261.86 1004.8v-5.3M331.09 786.4v5.3M331.09 1004.8v-5.3M88.8 942.4h9.8M365.7 942.4h-9.8M88.8 880h9.8M365.7 880h-9.8M88.8 817.6h9.8M365.7 817.6h-9.8M88.8 973.6h5.3M365.7 973.6h-5.3M88.8 911.2h5.3M365.7 911.2h-5.3M88.8 848.8h5.3M365.7 848.8h-5.3" fill="none" stroke="#000" stroke-width="1.7"/>
<text x="106.6" y="820.9" font-size="26.2">Methanol</text>
<path d="M335.4 811.4L335.4 794.5M335.4 811.4L350.4 820.2M335.4 811.4L320.1 820.4M320.1 820.4L304.2 811.4M304.2 811.4L288.3 820.4M288.3 820.4L288.3 838.4M288.3 838.4L304.2 847.4M304.2 847.4L320.1 838.4M320.1 838.4L320.1 820.4M303.66 814.81L291.58 821.65M291.58 837.15L303.66 843.99M317.4 836.24L317.4 822.56M288.3 838.4L276.6 845.2M269.8 844.6L257.7 837.6M256.8 837.6L256.8 824.6M258.9 836.6L258.9 824.6M257.7 837.6L245.6 844.8M239.2 845L227 838.2M242.4 851.6L242.4 864.4" fill="none" stroke="#3a3a3a" stroke-width="0.9" stroke-linecap="round"/><text x="273.3" y="849.9" font-size="6.3" text-anchor="middle" fill="#333">N</text><text x="273.3" y="855.6" font-size="6.3" text-anchor="middle" fill="#333">H</text><text x="257.8" y="823" font-size="6.3" text-anchor="middle" fill="#333">O</text><text x="242.4" y="850" font-size="6.3" text-anchor="middle" fill="#333">N</text>
<path d="M131.85 902L145.65 889.9M196.82 924.78L231.68 889.92M251.21 940.56L263.99 926.74" stroke="#000" stroke-width="2.5" stroke-linecap="round" fill="none"/>
<text x="147.7" y="887.4" font-size="19.5">Solvent</text>
<text x="236.6" y="887.6" font-size="19.5">[M+Na]<tspan font-size="11.6" dy="-9.6" stroke="#000" stroke-width="0.55">+</tspan></text>
<text x="267.8" y="922.6" font-size="19.5">[2M+Na]<tspan font-size="11.6" dy="-9.6" stroke="#000" stroke-width="0.55">+</tspan></text>
<text transform="translate(470.4 285.3) scale(1 1.04)" font-size="26.5" text-anchor="end">0</text>
<text transform="translate(470.4 222.73) scale(1 1.04)" font-size="26.5" text-anchor="end">200</text>
<text transform="translate(470.4 160.16) scale(1 1.04)" font-size="26.5" text-anchor="end">400</text>
<text transform="translate(470.4 97.59) scale(1 1.04)" font-size="26.5" text-anchor="end">600</text>
<rect x="481.3" y="58.6" width="276.1" height="219" fill="none" stroke="#000" stroke-width="2.2" stroke-linejoin="round"/>
<path d="M545.02 58.6v10.4M545.02 277.6v-10.4M629.97 58.6v10.4M629.97 277.6v-10.4M714.92 58.6v10.4M714.92 277.6v-10.4M502.54 58.6v5.9M502.54 277.6v-5.9M587.49 58.6v5.9M587.49 277.6v-5.9M672.45 58.6v5.9M672.45 277.6v-5.9M481.3 215.03h10.4M757.4 215.03h-10.4M481.3 152.46h10.4M757.4 152.46h-10.4M481.3 89.89h10.4M757.4 89.89h-10.4M481.3 246.31h5.9M757.4 246.31h-5.9M481.3 183.74h5.9M757.4 183.74h-5.9M481.3 121.17h5.9M757.4 121.17h-5.9" fill="none" stroke="#000" stroke-width="2.2"/>
<path d="M481.3 277.27L481.51 277.5L481.72 276.51L481.94 277.29L482.15 277.19L482.36 277.56L482.57 277.34L482.79 277.25L483 277.16L483.21 277.27L483.42 277.44L483.64 277.4L483.85 276.58L484.06 277.55L484.27 277.32L484.49 277.36L484.7 277.52L484.91 277.32L485.12 277.6L485.34 276.92L485.55 277.02L485.76 277.55L485.97 277.42L486.18 277.43L486.4 277.14L486.61 277.43L486.82 277.5L487.03 276.14L487.25 276.48L487.46 276.88L487.67 276.79L487.88 276.42L488.1 276.42L488.31 277.42L488.52 277.57L488.73 277.25L488.95 277.01L489.16 277.42L489.37 277.22L489.58 277.37L489.8 276.33L490.01 277.18L490.22 275.93L490.43 277.38L490.64 277.2L490.86 277.52L491.07 277.33L491.28 277.57L491.49 276.82L491.71 275.45L491.92 277.48L492.13 277.28L492.34 277.53L492.56 277.47L492.77 276.87L492.98 276.86L493.19 277.11L493.41 277.3L493.62 277.48L493.83 277.14L494.04 277.45L494.26 277.59L494.47 276.73L494.68 277.19L494.89 277.06L495.11 277.57L495.32 277.28L495.53 275.42L495.74 277.2L495.95 277.33L496.17 277.44L496.38 277.53L496.59 276.83L496.8 277.38L497.02 276.81L497.23 277.39L497.44 277.24L497.65 277.2L497.87 277.54L498.08 276.65L498.29 277.31L498.5 277.23L498.72 277.52L498.93 276.85L499.14 277.1L499.35 276.38L499.57 276.67L499.78 276.78L499.99 276.56L500.2 277.32L500.41 277.46L500.63 277.21L500.84 277.06L501.05 277.59L501.26 276.69L501.48 276.35L501.69 277.11L501.9 276.94L502.11 276.58L502.33 277.57L502.54 277.53L502.75 276.99L502.96 276.94L503.18 277.55L503.39 276.63L503.6 277.19L503.81 276.91L504.03 277.27L504.24 276.96L504.45 277.24L504.66 277.06L504.87 277.15L505.09 277.19L505.3 277.56L505.51 277.12L505.72 276.88L505.94 277.36L506.15 277.13L506.36 277.04L506.57 276.95L506.79 277.38L507 277.54L507.21 277.32L507.42 277.1L507.64 277.2L507.85 277.01L508.06 277.58L508.27 277.28L508.49 276.82L508.7 277.29L508.91 277.21L509.12 277.31L509.33 277.39L509.55 276.8L509.76 277.34L509.97 276.46L510.18 277.16L510.4 277.59L510.61 277.36L510.82 276.59L511.03 277.36L511.25 277.33L511.46 275.71L511.67 277.28L511.88 277.47L512.1 277.58L512.31 277.5L512.52 277.49L512.73 277.47L512.95 277.11L513.16 277.5L513.37 277.6L513.58 277.02L513.79 277.22L514.01 277.34L514.22 276.81L514.43 276.27L514.64 277.21L514.86 277.33L515.07 277.49L515.28 277.22L515.49 277.26L515.71 276.72L515.92 276.57L516.13 277.06L516.34 277.41L516.56 277.49L516.77 277.32L516.98 277.31L517.19 276.68L517.41 277.25L517.62 276.43L517.83 277.47L518.04 277.18L518.25 277.3L518.47 275.73L518.68 277.43L518.89 277.44L519.1 276.73L519.32 276.89L519.53 277.3L519.74 277.44L519.95 276.8L520.17 277.44L520.38 277.01L520.59 277.34L520.8 277.26L521.02 277.23L521.23 277.26L521.44 277.52L521.65 276.75L521.87 277.22L522.08 276.98L522.29 277.14L522.5 277.06L522.72 277.16L522.93 277.14L523.14 276.65L523.35 277.6L523.56 277.35L523.78 277.45L523.99 277.44L524.2 277.34L524.41 277.26L524.63 277.51L524.84 277.08L525.05 277.08L525.26 277.58L525.48 277.23L525.69 277.43L525.9 277.46L526.11 277.42L526.33 277.59L526.54 277.47L526.75 277.5L526.96 277.2L527.18 277.3L527.39 277.33L527.6 277.58L527.81 277.17L528.02 277.36L528.24 277.04L528.45 277.07L528.66 277.57L528.87 277.54L529.09 276.71L529.3 277.34L529.51 277.41L529.72 277.32L529.94 277.52L530.15 276.77L530.36 277.58L530.57 277.52L530.79 277.35L531 277.45L531.21 276.55L531.42 276.88L531.64 276.46L531.85 277L532.06 277.06L532.27 277.58L532.48 277.01L532.7 276.74L532.91 277.51L533.12 277.38L533.33 277.43L533.55 276.76L533.76 276.82L533.97 277.27L534.18 277.25L534.4 277.41L534.61 277.17L534.82 277.49L535.03 277.01L535.25 277.21L535.46 277.02L535.67 277.2L535.88 276.83L536.1 276.55L536.31 277.22L536.52 277.51L536.73 277.12L536.94 276.72L537.16 277.53L537.37 276.38L537.58 277.27L537.79 277.43L538.01 277.5L538.22 276.9L538.43 277.51L538.64 277.36L538.86 277.14L539.07 277.36L539.28 276.69L539.49 277.13L539.71 276.99L539.92 277.49L540.13 276.76L540.34 277.53L540.56 276.76L540.77 277.24L540.98 277.53L541.19 277.25L541.4 275.98L541.62 277L541.83 277.36L542.04 277.5L542.25 277.26L542.47 277.31L542.68 277.22L542.89 276.66L543.1 277.44L543.32 277.42L543.53 277.06L543.74 277.56L543.95 277.16L544.17 277.48L544.38 277.21L544.59 276.55L544.8 277.51L545.02 277.23L545.23 277.41L545.44 277.37L545.65 277.51L545.86 277.57L546.08 277.08L546.29 277.58L546.5 277.22L546.71 277.49L546.93 277.05L547.14 277.33L547.35 276.56L547.56 277.49L547.78 275.45L547.99 250.69L548.2 251.5L548.41 275.99L548.63 275.1L548.84 275.17L549.05 277.44L549.26 277.42L549.48 276.88L549.69 277.14L549.9 277.42L550.11 277.18L550.33 277.25L550.54 277.15L550.75 276.67L550.96 277.31L551.17 277.59L551.39 277.56L551.6 277.21L551.81 277.22L552.02 277.01L552.24 277.48L552.45 277.47L552.66 277.37L552.87 276.93L553.09 277.52L553.3 277.34L553.51 277.25L553.72 277.39L553.94 276.99L554.15 277.26L554.36 277.52L554.57 277.17L554.79 275.67L555 277.36L555.21 277.42L555.42 277.44L555.63 277.59L555.85 277.02L556.06 277.48L556.27 277.55L556.48 277.46L556.7 276.98L556.91 277.36L557.12 271.64L557.33 203.14L557.55 205.37L557.76 273.13L557.97 273.22L558.18 273.35L558.4 276.8L558.61 277.59L558.82 277.29L559.03 277.11L559.25 276.76L559.46 276.62L559.67 277.45L559.88 277.57L560.09 276.79L560.31 276.56L560.52 277.46L560.73 276.97L560.94 276.75L561.16 277.13L561.37 276.71L561.58 277.1L561.79 277.57L562.01 277.54L562.22 277.19L562.43 277.38L562.64 277.38L562.86 277.4L563.07 276.53L563.28 277.07L563.49 277.2L563.71 277.57L563.92 277.44L564.13 277.11L564.34 277.25L564.55 277.1L564.77 277.37L564.98 277.38L565.19 277.29L565.4 275.85L565.62 275.88L565.83 276.82L566.04 277L566.25 277.31L566.47 276.29L566.68 277.36L566.89 276.65L567.1 277.44L567.32 277.48L567.53 277.6L567.74 277.08L567.95 277.29L568.17 277.21L568.38 277.17L568.59 277.5L568.8 277.29L569.01 277.01L569.23 276.43L569.44 276.93L569.65 277.36L569.86 276.69L570.08 276.77L570.29 277.44L570.5 277.19L570.71 277.4L570.93 276.78L571.14 277.56L571.35 276.83L571.56 276.72L571.78 277.11L571.99 277.24L572.2 276.82L572.41 277.3L572.63 276.49L572.84 276.69L573.05 275.5L573.26 277.08L573.47 277.43L573.69 277.57L573.9 277.47L574.11 277.13L574.32 276.99L574.54 277.16L574.75 277.33L574.96 277.54L575.17 277.44L575.39 276.53L575.6 277.18L575.81 277.56L576.02 277.51L576.24 277.18L576.45 277.04L576.66 277.52L576.87 276.81L577.09 277.2L577.3 277.42L577.51 277.15L577.72 276.97L577.93 277.03L578.15 277.48L578.36 277.54L578.57 276.64L578.78 277.35L579 277.09L579.21 277.26L579.42 277.28L579.63 277.55L579.85 277.04L580.06 277.43L580.27 276.52L580.48 277.32L580.7 277.53L580.91 277.51L581.12 277.37L581.33 277.31L581.55 277.42L581.76 276.96L581.97 276.68L582.18 277.12L582.4 277.6L582.61 277.34L582.82 277.04L583.03 277.21L583.24 276.96L583.46 277.09L583.67 277.4L583.88 277.46L584.09 277.14L584.31 277.35L584.52 277.58L584.73 277.55L584.94 276.95L585.16 276.5L585.37 277.19L585.58 277.58L585.79 276.6L586.01 277.28L586.22 277.18L586.43 277.21L586.64 277.27L586.86 277.1L587.07 277.54L587.28 277.32L587.49 277.47L587.7 277.19L587.92 277.06L588.13 277.44L588.34 277.54L588.55 277.51L588.77 275.64L588.98 277.47L589.19 277.54L589.4 277.4L589.62 277.29L589.83 277.31L590.04 277.57L590.25 277.39L590.47 277.2L590.68 277.51L590.89 277.35L591.1 277.27L591.32 277.2L591.53 277.59L591.74 277.18L591.95 276.77L592.16 277.55L592.38 276.8L592.59 277.17L592.8 277.2L593.01 277.09L593.23 277.17L593.44 277.45L593.65 277.4L593.86 276.51L594.08 277.42L594.29 276.95L594.5 277.21L594.71 276.98L594.93 276.98L595.14 277.52L595.35 277.5L595.56 277.56L595.78 277.36L595.99 277.29L596.2 277.6L596.41 276.51L596.62 277.31L596.84 276.88L597.05 277.46L597.26 277.17L597.47 277.51L597.69 277.08L597.9 277.25L598.11 277.41L598.32 276.79L598.54 276.7L598.75 276.87L598.96 277.56L599.17 277.53L599.39 276.82L599.6 277.46L599.81 277.43L600.02 277.53L600.24 277.45L600.45 277.59L600.66 277.38L600.87 277.31L601.08 277.42L601.3 276.31L601.51 277.24L601.72 277.55L601.93 276.47L602.15 277.26L602.36 277.1L602.57 277.06L602.78 276.1L603 277.11L603.21 277.36L603.42 276.75L603.63 277.28L603.85 276.97L604.06 277.47L604.27 277.37L604.48 276.85L604.7 276.65L604.91 276.79L605.12 277.42L605.33 277.46L605.54 276.81L605.76 277L605.97 276.79L606.18 277.35L606.39 277.32L606.61 276.58L606.82 277.11L607.03 277.2L607.24 277.16L607.46 277.07L607.67 277.01L607.88 277.04L608.09 277.19L608.31 276.97L608.52 276.91L608.73 277.27L608.94 277.06L609.16 277.47L609.37 277.35L609.58 277.34L609.79 277.6L610.01 277.27L610.22 277.57L610.43 276.98L610.64 277.02L610.85 277.52L611.07 277.32L611.28 277.24L611.49 276.32L611.7 277.57L611.92 277.45L612.13 277.57L612.34 277.47L612.55 277.56L612.77 277.36L612.98 277.44L613.19 277.24L613.4 277.43L613.62 277L613.83 277.41L614.04 276.84L614.25 277.26L614.47 277L614.68 277.4L614.89 277.25L615.1 277.44L615.31 277.5L615.53 277.15L615.74 277.47L615.95 277.3L616.16 277.37L616.38 277.53L616.59 276.8L616.8 277.26L617.01 277.18L617.23 277.51L617.44 277.57L617.65 277.32L617.86 277.43L618.08 277.47L618.29 277.45L618.5 277.56L618.71 277.15L618.93 277.36L619.14 277.41L619.35 277.31L619.56 277.01L619.77 277L619.99 277.49L620.2 277.27L620.41 276.88L620.62 277.48L620.84 277.03L621.05 276.07L621.26 277.18L621.47 277.09L621.69 276.36L621.9 276.18L622.11 276.08L622.32 276.69L622.54 277.16L622.75 277.21L622.96 277.11L623.17 277.49L623.39 277.04L623.6 277.55L623.81 277.6L624.02 277.23L624.23 276.41L624.45 277.23L624.66 276.94L624.87 276.97L625.08 277.1L625.3 277.13L625.51 277.13L625.72 277.53L625.93 277.31L626.15 277.55L626.36 277.04L626.57 277.46L626.78 277.59L627 277.33L627.21 276.72L627.42 277.17L627.63 277.01L627.85 277.33L628.06 277.41L628.27 276.98L628.48 276.69L628.69 276.49L628.91 276.69L629.12 277.53L629.33 277.21L629.54 277.55L629.76 277.3L629.97 277.17L630.18 276.84L630.39 277.03L630.61 277.46L630.82 277.15L631.03 277.53L631.24 276.64L631.46 277.08L631.67 277.36L631.88 277.37L632.09 277.58L632.31 277.21L632.52 277L632.73 277.39L632.94 277.22L633.15 277.29L633.37 277L633.58 277.51L633.79 277.03L634 275.62L634.22 277.6L634.43 277.4L634.64 277.45L634.85 276.6L635.07 277.33L635.28 277.33L635.49 277.3L635.7 277.3L635.92 273.85L636.13 273.96L636.34 277.14L636.55 277.3L636.77 277.54L636.98 277.38L637.19 277.49L637.4 277.27L637.62 277L637.83 270.09L638.04 270.32L638.25 276.56L638.46 277.24L638.68 277.03L638.89 277.35L639.1 277.19L639.31 276.93L639.53 277.45L639.74 277.18L639.95 277.11L640.16 276.96L640.38 277.08L640.59 277.19L640.8 276.14L641.01 277.37L641.23 277.31L641.44 277.24L641.65 275.45L641.86 277.51L642.08 277.18L642.29 277.56L642.5 277.47L642.71 277.58L642.92 276.98L643.14 277.45L643.35 277.35L643.56 277.01L643.77 276.98L643.99 277.27L644.2 277.33L644.41 277.4L644.62 264.74L644.84 116.79L645.05 121.62L645.26 267.95L645.47 268.21L645.69 268.5L645.9 276.74L646.11 277.49L646.32 277.55L646.54 277.59L646.75 277.43L646.96 277.3L647.17 276.93L647.38 273.22L647.6 273.35L647.81 277.34L648.02 277.55L648.23 277.4L648.45 277.46L648.66 277.44L648.87 277.6L649.08 277.6L649.3 277.33L649.51 277.1L649.72 277.42L649.93 276.15L650.15 277.4L650.36 277.19L650.57 276.28L650.78 277.34L651 277.44L651.21 277.21L651.42 277.45L651.63 277.53L651.84 277.15L652.06 277.39L652.27 277.5L652.48 277.23L652.69 277.41L652.91 276.1L653.12 276.87L653.33 276.91L653.54 277.57L653.76 277.47L653.97 276.86L654.18 277.03L654.39 276.9L654.61 277.24L654.82 277.35L655.03 277.48L655.24 277.48L655.46 276.91L655.67 276.04L655.88 276.64L656.09 277.11L656.3 276.98L656.52 275.41L656.73 277.42L656.94 277.08L657.15 277.48L657.37 277.24L657.58 276.8L657.79 276.96L658 277.26L658.22 277.34L658.43 276.74L658.64 276.78L658.85 277.11L659.07 277.43L659.28 276.92L659.49 277.41L659.7 277.5L659.92 277.24L660.13 277.51L660.34 277.51L660.55 277.55L660.76 277.22L660.98 277.36L661.19 277.34L661.4 277.02L661.61 277.32L661.83 277.45L662.04 277.33L662.25 277.53L662.46 277.35L662.68 277.21L662.89 276.3L663.1 277.28L663.31 277.21L663.53 277.04L663.74 276.91L663.95 276.6L664.16 276.95L664.38 276.71L664.59 276.92L664.8 276.72L665.01 277.45L665.23 277L665.44 276.99L665.65 277.57L665.86 275.68L666.07 277.28L666.29 277.17L666.5 277.52L666.71 277.05L666.92 277.14L667.14 277.5L667.35 277.21L667.56 277.01L667.77 277.53L667.99 277.49L668.2 277.26L668.41 277.57L668.62 276.89L668.84 277.52L669.05 277.31L669.26 277.5L669.47 277.49L669.69 277.09L669.9 277.44L670.11 277.46L670.32 277.38L670.53 276.92L670.75 276.44L670.96 277L671.17 277.34L671.38 277.42L671.6 277.22L671.81 277.18L672.02 276.98L672.23 276.83L672.45 276.87L672.66 277.53L672.87 277.17L673.08 277.42L673.3 277.51L673.51 276.84L673.72 276.81L673.93 276.98L674.15 277.06L674.36 277.44L674.57 277.55L674.78 277.31L674.99 277.49L675.21 276.96L675.42 277.38L675.63 277.36L675.84 277.16L676.06 277.45L676.27 277.45L676.48 277.31L676.69 277.31L676.91 276.1L677.12 277.47L677.33 276.7L677.54 277.35L677.76 277.11L677.97 277.41L678.18 276.57L678.39 277.24L678.61 277.34L678.82 276.88L679.03 276.85L679.24 276.87L679.45 276.92L679.67 277.35L679.88 276.96L680.09 277.29L680.3 277.07L680.52 277.39L680.73 277.53L680.94 275.88L681.15 277.34L681.37 277.5L681.58 277.48L681.79 277.37L682 277.41L682.22 277.05L682.43 277.2L682.64 276.56L682.85 277.13L683.07 277.1L683.28 277.37L683.49 276.55L683.7 277.46L683.91 276.61L684.13 276.79L684.34 276.42L684.55 277.58L684.76 276.07L684.98 277.58L685.19 277.58L685.4 277.44L685.61 276.91L685.83 277.07L686.04 277.14L686.25 277.55L686.46 276.95L686.68 276.81L686.89 277.22L687.1 277.31L687.31 277.46L687.53 276.03L687.74 276.36L687.95 277.52L688.16 277.56L688.38 277.26L688.59 277.07L688.8 277.46L689.01 277.04L689.22 277.53L689.44 277.58L689.65 276.93L689.86 277.51L690.07 276.42L690.29 277.45L690.5 277.4L690.71 277.38L690.92 277.15L691.14 277.5L691.35 277.1L691.56 276.02L691.77 276.93L691.99 276.64L692.2 276.94L692.41 276.77L692.62 277.26L692.84 277.11L693.05 277.35L693.26 277.2L693.47 277.11L693.68 277.58L693.9 277.59L694.11 276.8L694.32 277.58L694.53 275.61L694.75 277.49L694.96 277.6L695.17 276.86L695.38 277.44L695.6 277.17L695.81 276.57L696.02 277.3L696.23 277.17L696.45 277.13L696.66 276.99L696.87 276.98L697.08 277.52L697.3 276.99L697.51 276.81L697.72 277.43L697.93 277.36L698.14 277.27L698.36 277.31L698.57 277.09L698.78 277.27L698.99 277.12L699.21 277.36L699.42 277.26L699.63 277.34L699.84 276.91L700.06 277.34L700.27 277.39L700.48 277.54L700.69 277.21L700.91 277.56L701.12 276.88L701.33 277.2L701.54 277.28L701.76 276.74L701.97 277.33L702.18 277.08L702.39 276.89L702.6 276.8L702.82 277.44L703.03 277.45L703.24 277.13L703.45 277.05L703.67 276.87L703.88 277.53L704.09 277.5L704.3 277.58L704.52 276.63L704.73 277.37L704.94 277.25L705.15 277.19L705.37 277.01L705.58 277.38L705.79 277.57L706 277.01L706.22 277.21L706.43 277.25L706.64 277.26L706.85 276.85L707.06 275.06L707.28 276.95L707.49 277.5L707.7 277.44L707.91 277.37L708.13 277L708.34 277.45L708.55 277.3L708.76 277.12L708.98 277.03L709.19 277.38L709.4 277.03L709.61 277.54L709.83 277.53L710.04 277.57L710.25 277.3L710.46 277.53L710.68 277.11L710.89 277.4L711.1 277.3L711.31 277.13L711.52 276.84L711.74 277.59L711.95 277.34L712.16 277.36L712.37 277.54L712.59 277.09L712.8 276.56L713.01 277.31L713.22 277.08L713.44 276.28L713.65 276.64L713.86 277.43L714.07 276.79L714.29 276.99L714.5 276.82L714.71 277.11L714.92 277.19L715.14 277.26L715.35 277.02L715.56 277.55L715.77 277.44L715.98 277.23L716.2 277.52L716.41 277.43L716.62 276.81L716.83 277L717.05 277.44L717.26 277.46L717.47 277.15L717.68 277.04L717.9 277.43L718.11 277.18L718.32 277.56L718.53 277.07L718.75 277.14L718.96 277.18L719.17 277.08L719.38 277.53L719.6 277.31L719.81 277L720.02 277.28L720.23 277.2L720.45 276.89L720.66 277.25L720.87 277.27L721.08 277.56L721.29 276.94L721.51 276.14L721.72 277.13L721.93 276.77L722.14 277.5L722.36 277.05L722.57 277.42L722.78 276.77L722.99 277.36L723.21 276.69L723.42 275.64L723.63 277.26L723.84 277.34L724.06 277.19L724.27 277.58L724.48 277.04L724.69 277.34L724.91 277.35L725.12 276.85L725.33 277.38L725.54 277.23L725.75 277.28L725.97 277.47L726.18 277.17L726.39 277.55L726.6 277.25L726.82 277.37L727.03 276.86L727.24 277.15L727.45 277.41L727.67 277.41L727.88 277.13L728.09 276.88L728.3 277.58L728.52 277.21L728.73 276.97L728.94 277.18L729.15 276.91L729.37 277.6L729.58 277.28L729.79 276.7L730 276.94L730.21 277.26L730.43 277.32L730.64 277.29L730.85 277.5L731.06 276.96L731.28 276.98L731.49 277.02L731.7 277.6L731.91 277.43L732.13 277.06L732.34 277.4L732.55 276.85L732.76 277.58L732.98 277.38L733.19 276.6L733.4 277.53L733.61 276.99L733.83 276.78L734.04 277.06L734.25 277.31L734.46 277.57L734.67 277.08L734.89 277.05L735.1 277.57L735.31 276.47L735.52 277.3L735.74 276.84L735.95 277.38L736.16 277.23L736.37 277.28L736.59 276.72L736.8 276.23L737.01 277.41L737.22 277.53L737.44 277.54L737.65 277.08L737.86 276.79L738.07 277.44L738.29 277.51L738.5 277.03L738.71 277.23L738.92 277.51L739.13 277.58L739.35 276.91L739.56 276.89L739.77 277.36L739.98 277.12L740.2 277.4L740.41 277.5L740.62 277.46L740.83 276.77L741.05 277L741.26 277.04L741.47 277.18L741.68 277.24L741.9 277.58L742.11 277.14L742.32 276.69L742.53 277.55L742.75 277.29L742.96 277.5L743.17 277.46L743.38 277.38L743.6 276.84L743.81 277.12L744.02 277.09L744.23 277.39L744.44 276.78L744.66 277.57L744.87 277.53L745.08 277.21L745.29 277.34L745.51 276.7L745.72 277.05L745.93 277.45L746.14 277.45L746.36 277.36L746.57 276.72L746.78 277.55L746.99 277.42L747.21 277.5L747.42 277.58L747.63 277.01L747.84 277.33L748.06 277.34L748.27 276.48L748.48 277.05L748.69 277.33L748.9 277.38L749.12 277.36L749.33 277.37L749.54 276.79L749.75 277.22L749.97 277.14L750.18 276.59L750.39 277.17L750.6 276.78L750.82 277.5L751.03 277.43L751.24 277.29L751.45 276.96L751.67 277.27L751.88 275.85L752.09 277.56L752.3 277.57L752.52 277.54L752.73 276.59L752.94 277.28L753.15 276.85L753.36 277.53L753.58 276.24L753.79 277.46L754 277.37L754.21 277.34L754.43 276.69L754.64 276.65L754.85 277.25L755.06 277.44L755.28 276.39L755.49 276.46L755.7 276.91L755.91 277.12L756.13 276.78L756.34 277.37L756.55 277.18L756.76 277.45L756.98 277L757.19 277.07L757.4 277.39" fill="none" stroke="#ff0000" stroke-width="2.0" stroke-linejoin="round"/>
<text x="496.2" y="91.5" font-size="26.2">2-Propanol</text>
<path d="M645.73 116.19L658.07 104.41M558.03 206.89L571.07 194.41M548.07 250.18L528.83 231.42M637.88 268.28L619.02 249.42" stroke="#000" stroke-width="2.5" stroke-linecap="round" fill="none"/>
<text transform="translate(666.3 106.8) rotate(-45) scale(1 1.04)" font-size="26.3" text-anchor="start">435</text>
<text transform="translate(578.6 198.6) rotate(-45) scale(1 1.04)" font-size="26.3" text-anchor="start">229</text>
<text transform="translate(511.3 245.2) rotate(-45) scale(1 1.04)" font-size="26.3" text-anchor="start">207</text>
<text transform="translate(600.7 263.5) rotate(-45) scale(1 1.04)" font-size="26.3" text-anchor="start">413</text>
<text transform="translate(470.4 529.3) scale(1 1.04)" font-size="26.5" text-anchor="end">0</text>
<text transform="translate(470.4 466.64) scale(1 1.04)" font-size="26.5" text-anchor="end">100</text>
<text transform="translate(470.4 403.99) scale(1 1.04)" font-size="26.5" text-anchor="end">200</text>
<text transform="translate(470.4 341.33) scale(1 1.04)" font-size="26.5" text-anchor="end">300</text>
<rect x="481.3" y="302.3" width="276.1" height="219.3" fill="none" stroke="#000" stroke-width="2.2" stroke-linejoin="round"/>
<path d="M545.02 302.3v10.4M545.02 521.6v-10.4M629.97 302.3v10.4M629.97 521.6v-10.4M714.92 302.3v10.4M714.92 521.6v-10.4M502.54 302.3v5.9M502.54 521.6v-5.9M587.49 302.3v5.9M587.49 521.6v-5.9M672.45 302.3v5.9M672.45 521.6v-5.9M481.3 458.94h10.4M757.4 458.94h-10.4M481.3 396.29h10.4M757.4 396.29h-10.4M481.3 333.63h10.4M757.4 333.63h-10.4M481.3 490.27h5.9M757.4 490.27h-5.9M481.3 427.61h5.9M757.4 427.61h-5.9M481.3 364.96h5.9M757.4 364.96h-5.9" fill="none" stroke="#000" stroke-width="2.2"/>
<path d="M481.3 520.23L481.51 521.33L481.72 521.31L481.94 520.81L482.15 520.93L482.36 520.83L482.57 520.69L482.79 521.47L483 521.36L483.21 521.02L483.42 521.08L483.64 518.91L483.85 520.66L484.06 521.1L484.27 521.51L484.49 520.31L484.7 520.78L484.91 521.05L485.12 521.25L485.34 521.28L485.55 518.79L485.76 520.65L485.97 520.76L486.18 521.32L486.4 521.12L486.61 520.56L486.82 520.51L487.03 520.93L487.25 519.77L487.46 521.21L487.67 520.3L487.88 519.53L488.1 521.55L488.31 521.6L488.52 520.14L488.73 521.24L488.95 520.09L489.16 520.66L489.37 521.45L489.58 521.27L489.8 518.79L490.01 521.54L490.22 520.94L490.43 521.45L490.64 520.64L490.86 521.29L491.07 521.58L491.28 521.05L491.49 520.74L491.71 520.97L491.92 520.03L492.13 521.19L492.34 520.89L492.56 521.4L492.77 521.19L492.98 521.1L493.19 521.28L493.41 521.54L493.62 520.99L493.83 520.92L494.04 517.5L494.26 521.35L494.47 521.35L494.68 521.36L494.89 521.14L495.11 520.81L495.32 521.25L495.53 520.96L495.74 519.52L495.95 521.17L496.17 520.95L496.38 520.85L496.59 521.21L496.8 521.11L497.02 521.33L497.23 520.86L497.44 521.2L497.65 521.11L497.87 521L498.08 521.14L498.29 520.79L498.5 521.26L498.72 521.04L498.93 520.81L499.14 520.66L499.35 521.31L499.57 520.25L499.78 518.86L499.99 521.55L500.2 520.96L500.41 520.65L500.63 520.25L500.84 521.37L501.05 520.9L501.26 521.49L501.48 521L501.69 521.53L501.9 520.58L502.11 521.41L502.33 520.88L502.54 519.09L502.75 519.17L502.96 521.31L503.18 521.26L503.39 520.93L503.6 521.22L503.81 520.65L504.03 520.94L504.24 520.87L504.45 521.19L504.66 521.19L504.87 521.5L505.09 521.6L505.3 521.14L505.51 521.55L505.72 520.95L505.94 520.1L506.15 520.89L506.36 521.09L506.57 521.23L506.79 521.4L507 520.16L507.21 521.44L507.42 520.97L507.64 519.23L507.85 521.24L508.06 520.39L508.27 520.87L508.49 521.05L508.7 520.9L508.91 521.06L509.12 521.59L509.33 521.47L509.55 521.35L509.76 521.41L509.97 519.07L510.18 521.52L510.4 521.09L510.61 520.71L510.82 521.58L511.03 519.48L511.25 521.35L511.46 521.32L511.67 521.28L511.88 521.56L512.1 521.3L512.31 521.25L512.52 521.54L512.73 520.48L512.95 519.92L513.16 519.44L513.37 520.94L513.58 521.47L513.79 520.56L514.01 521.22L514.22 521.33L514.43 520.52L514.64 520.44L514.86 521.08L515.07 521.56L515.28 521.36L515.49 520.01L515.71 521.54L515.92 520.42L516.13 521.31L516.34 521.31L516.56 520.98L516.77 520.23L516.98 520.96L517.19 521.2L517.41 520.96L517.62 520.74L517.83 521.41L518.04 521.46L518.25 520.44L518.47 521.12L518.68 519.54L518.89 520.4L519.1 521.31L519.32 521.28L519.53 520.87L519.74 521.12L519.95 520.75L520.17 521.07L520.38 519.78L520.59 521.48L520.8 520.87L521.02 521.01L521.23 521.06L521.44 519.9L521.65 520.84L521.87 521.04L522.08 520.37L522.29 521.34L522.5 521.4L522.72 520.97L522.93 521.57L523.14 521.09L523.35 521.6L523.56 521.07L523.78 521.52L523.99 521.6L524.2 520.12L524.41 520.86L524.63 521.46L524.84 521.4L525.05 520.74L525.26 521.15L525.48 521.58L525.69 521.5L525.9 519.61L526.11 520.75L526.33 520.46L526.54 521.3L526.75 521.28L526.96 518.68L527.18 521.3L527.39 521.21L527.6 521.34L527.81 521.22L528.02 521.45L528.24 521.55L528.45 521.22L528.66 521.56L528.87 521.27L529.09 521.12L529.3 520.52L529.51 521.44L529.72 520.42L529.94 520.25L530.15 520.45L530.36 519.97L530.57 521.39L530.79 520.67L531 521.54L531.21 521.11L531.42 521.24L531.64 521.03L531.85 521.06L532.06 521.43L532.27 521.32L532.48 520.85L532.7 520.85L532.91 521.49L533.12 521.57L533.33 520.98L533.55 521.54L533.76 520.65L533.97 520.91L534.18 521.45L534.4 521.51L534.61 521.5L534.82 520.89L535.03 521.02L535.25 521.35L535.46 520.3L535.67 521.03L535.88 520.9L536.1 521.13L536.31 520.8L536.52 521.28L536.73 520.46L536.94 521.33L537.16 520.89L537.37 521.27L537.58 521.03L537.79 520.05L538.01 521.28L538.22 521.31L538.43 520.62L538.64 521.37L538.86 520.42L539.07 521.55L539.28 521.37L539.49 521.12L539.71 520.83L539.92 520.76L540.13 521.58L540.34 521.52L540.56 521.36L540.77 520.52L540.98 521.59L541.19 520.75L541.4 519.72L541.62 521.32L541.83 520.82L542.04 521.4L542.25 521L542.47 521.03L542.68 521.06L542.89 521.31L543.1 520.4L543.32 521.15L543.53 521.21L543.74 520.64L543.95 520.35L544.17 521.34L544.38 520.95L544.59 520.69L544.8 520.43L545.02 521.08L545.23 520.15L545.44 521.6L545.65 520.01L545.86 520.95L546.08 519.86L546.29 521.34L546.5 520.32L546.71 520.52L546.93 521.21L547.14 521.42L547.35 521.34L547.56 521.13L547.78 521.01L547.99 520.75L548.2 510.95L548.41 511.27L548.63 520.96L548.84 521.51L549.05 519.64L549.26 521.35L549.48 521.41L549.69 521.01L549.9 520.25L550.11 521.29L550.33 521.4L550.54 520.02L550.75 521.22L550.96 521.55L551.17 520.72L551.39 520.41L551.6 520.99L551.81 521.07L552.02 520.61L552.24 520.25L552.45 520.45L552.66 520.93L552.87 521.5L553.09 520.25L553.3 521.01L553.51 521.48L553.72 520.75L553.94 520.89L554.15 520.6L554.36 519.75L554.57 521.2L554.79 520.08L555 521.14L555.21 521.28L555.42 520.38L555.63 521.25L555.85 520.7L556.06 521.4L556.27 521.42L556.48 521.4L556.7 521.06L556.91 521.57L557.12 516.49L557.33 457.69L557.55 459.61L557.76 517.77L557.97 517.84L558.18 517.95L558.4 520.28L558.61 521.34L558.82 521.48L559.03 521.53L559.25 521.12L559.46 521.07L559.67 521.35L559.88 521.14L560.09 520.77L560.31 521.12L560.52 521.31L560.73 520.18L560.94 520.9L561.16 521.34L561.37 521.38L561.58 519.77L561.79 519.67L562.01 521.58L562.22 521.04L562.43 521.48L562.64 520.8L562.86 521.57L563.07 520.75L563.28 521.36L563.49 520.62L563.71 520.98L563.92 521.24L564.13 520.89L564.34 521.26L564.55 521.58L564.77 521.59L564.98 521.48L565.19 520.79L565.4 521.37L565.62 521.44L565.83 521.3L566.04 520.79L566.25 520.87L566.47 521.17L566.68 520.8L566.89 520.76L567.1 521.43L567.32 520.36L567.53 521.28L567.74 520.64L567.95 521.48L568.17 520.3L568.38 520.72L568.59 520.19L568.8 521.16L569.01 520.89L569.23 521.34L569.44 520.08L569.65 520.48L569.86 520.72L570.08 521.28L570.29 519.98L570.5 519.75L570.71 521.2L570.93 521.3L571.14 520.86L571.35 520.77L571.56 521.04L571.78 521.47L571.99 521.05L572.2 521.2L572.41 521.16L572.63 521.51L572.84 521.32L573.05 521.17L573.26 520.84L573.47 520.59L573.69 520.29L573.9 520.77L574.11 520.5L574.32 521.08L574.54 520.8L574.75 521.26L574.96 521.43L575.17 520.16L575.39 521.43L575.6 520.42L575.81 521.56L576.02 520.41L576.24 520.87L576.45 521.58L576.66 519.59L576.87 520.62L577.09 520.68L577.3 520.66L577.51 521.39L577.72 520.79L577.93 521.25L578.15 521.39L578.36 521.58L578.57 521.54L578.78 520.94L579 521.07L579.21 521.12L579.42 520.63L579.63 521.55L579.85 521.1L580.06 520.89L580.27 521.16L580.48 521.41L580.7 521.43L580.91 520.59L581.12 521.55L581.33 521.27L581.55 521.24L581.76 521.31L581.97 520.76L582.18 521.34L582.4 520.36L582.61 521.5L582.82 520.86L583.03 521.49L583.24 521.56L583.46 521.44L583.67 520.89L583.88 521.01L584.09 520.99L584.31 520.76L584.52 520.17L584.73 521.18L584.94 520.98L585.16 521.17L585.37 521.54L585.58 520.58L585.79 520.71L586.01 520.95L586.22 520.65L586.43 521.35L586.64 520.8L586.86 520.82L587.07 521.23L587.28 521.3L587.49 517.84L587.7 517.95L587.92 521.01L588.13 521.05L588.34 520.88L588.55 520.96L588.77 521.13L588.98 521.47L589.19 521.57L589.4 521.42L589.62 521.42L589.83 521.35L590.04 520.94L590.25 521.57L590.47 520.44L590.68 521.19L590.89 521.1L591.1 521.18L591.32 521.52L591.53 521.48L591.74 521.33L591.95 520.56L592.16 520.59L592.38 521.41L592.59 521.21L592.8 521.31L593.01 521.51L593.23 521.33L593.44 521.48L593.65 520.36L593.86 521.26L594.08 521.32L594.29 521.5L594.5 521.12L594.71 521.56L594.93 521.05L595.14 521.45L595.35 520.86L595.56 521.11L595.78 519.23L595.99 520.74L596.2 520.8L596.41 521.22L596.62 521.36L596.84 520.81L597.05 521.01L597.26 520.86L597.47 521.27L597.69 521.12L597.9 521.15L598.11 521.3L598.32 521.19L598.54 519.51L598.75 521.49L598.96 520.71L599.17 521.53L599.39 520.89L599.6 520.9L599.81 520.79L600.02 520.2L600.24 517.21L600.45 517.35L600.66 521.34L600.87 520.81L601.08 521.54L601.3 521.16L601.51 521.02L601.72 521.46L601.93 521.4L602.15 521.12L602.36 521.17L602.57 521.34L602.78 521.02L603 520.2L603.21 521.27L603.42 521.44L603.63 521.38L603.85 521L604.06 521.53L604.27 521.54L604.48 521.12L604.7 520.38L604.91 520.12L605.12 521.41L605.33 520.92L605.54 521.44L605.76 521.15L605.97 521.15L606.18 521.35L606.39 520.74L606.61 521.29L606.82 521.46L607.03 521.23L607.24 521.35L607.46 521.45L607.67 521.44L607.88 520.71L608.09 521.09L608.31 521.57L608.52 521.13L608.73 521.56L608.94 521.52L609.16 521.13L609.37 520.58L609.58 521.21L609.79 519.85L610.01 521.15L610.22 520.6L610.43 521.23L610.64 521.23L610.85 521.37L611.07 521.47L611.28 520.75L611.49 521.27L611.7 520.82L611.92 520.88L612.13 520.83L612.34 521.25L612.55 520.73L612.77 521.32L612.98 519.64L613.19 521.54L613.4 521.1L613.62 521.14L613.83 521.38L614.04 520.6L614.25 521.23L614.47 521.57L614.68 520.66L614.89 521.54L615.1 520.5L615.31 521.55L615.53 521.44L615.74 521.37L615.95 520.74L616.16 520.39L616.38 520.06L616.59 521.54L616.8 521.08L617.01 520.84L617.23 521.07L617.44 521.36L617.65 520.25L617.86 521.12L618.08 521.46L618.29 520.21L618.5 521.36L618.71 520.77L618.93 521.42L619.14 519.28L619.35 520.78L619.56 520.25L619.77 520.51L619.99 521.47L620.2 521.25L620.41 521.44L620.62 520.45L620.84 520.74L621.05 521.23L621.26 521.05L621.47 520.51L621.69 521.12L621.9 520.63L622.11 520.97L622.32 521.43L622.54 520.47L622.75 521.57L622.96 521.31L623.17 521.01L623.39 520.32L623.6 520.64L623.81 520.68L624.02 521.51L624.23 521.57L624.45 521.56L624.66 521.59L624.87 521.46L625.08 521.44L625.3 521.58L625.51 521.59L625.72 521.33L625.93 520.79L626.15 520.78L626.36 520.59L626.57 521.39L626.78 521.3L627 521.47L627.21 521.11L627.42 520.26L627.63 520.97L627.85 521.02L628.06 519.79L628.27 521.59L628.48 521.23L628.69 521.28L628.91 521.34L629.12 521.41L629.33 519.54L629.54 520.55L629.76 521.42L629.97 521.13L630.18 520.72L630.39 521.22L630.61 520.9L630.82 521.27L631.03 521.14L631.24 520.98L631.46 521.51L631.67 520.51L631.88 518.17L632.09 520.85L632.31 520.1L632.52 521.33L632.73 521.43L632.94 520.72L633.15 521.54L633.37 520.26L633.58 520.45L633.79 521.54L634 521.28L634.22 521.18L634.43 521.46L634.64 520.55L634.85 521.3L635.07 521.57L635.28 520.72L635.49 520.99L635.7 521.05L635.92 514.71L636.13 514.91L636.34 521.17L636.55 521.49L636.77 521.2L636.98 521.31L637.19 521.44L637.4 520.36L637.62 520.6L637.83 509.07L638.04 509.44L638.25 520.85L638.46 521.31L638.68 521.43L638.89 520.53L639.1 521.19L639.31 520.77L639.53 521.4L639.74 521.3L639.95 521.02L640.16 519.64L640.38 521.32L640.59 519.78L640.8 521.5L641.01 520.31L641.23 520.51L641.44 520.96L641.65 521.22L641.86 521.18L642.08 520.93L642.29 520.98L642.5 521.27L642.71 520.18L642.92 520.79L643.14 521.19L643.35 521.04L643.56 520.78L643.77 520.94L643.99 520.83L644.2 521.06L644.41 520.59L644.62 513.68L644.84 422.6L645.05 425.57L645.26 515.66L645.47 514.08L645.69 514.31L645.9 521.15L646.11 521.29L646.32 521.35L646.54 521.19L646.75 521.43L646.96 520.82L647.17 521.09L647.38 515.33L647.6 515.52L647.81 521.22L648.02 521.31L648.23 520.34L648.45 521.25L648.66 520.03L648.87 520.32L649.08 521.39L649.3 521.51L649.51 520.22L649.72 521.06L649.93 515.96L650.15 516.13L650.36 521.26L650.57 521.56L650.78 520.95L651 521.49L651.21 521.55L651.42 521.14L651.63 521.58L651.84 521.29L652.06 520.21L652.27 521.46L652.48 521.55L652.69 521.57L652.91 521.47L653.12 520.21L653.33 515.96L653.54 516.13L653.76 520.33L653.97 520.89L654.18 520.53L654.39 521.03L654.61 521.53L654.82 520.87L655.03 521.36L655.24 521L655.46 516.59L655.67 516.74L655.88 521.3L656.09 521.38L656.3 521.11L656.52 521.59L656.73 520.86L656.94 521.46L657.15 521.49L657.37 521.57L657.58 521.38L657.79 521.09L658 521.57L658.22 520.99L658.43 521.54L658.64 521.41L658.85 520.82L659.07 521.6L659.28 520.44L659.49 520.36L659.7 517.21L659.92 517.35L660.13 521.18L660.34 521.04L660.55 521.34L660.76 521.21L660.98 521.49L661.19 521.22L661.4 521.27L661.61 521.42L661.83 521.38L662.04 520.16L662.25 520.93L662.46 520.57L662.68 519.93L662.89 521.42L663.1 519.88L663.31 521.21L663.53 518.66L663.74 521.19L663.95 520.82L664.16 520.85L664.38 520.18L664.59 520.09L664.8 520.44L665.01 521.07L665.23 521.39L665.44 520.14L665.65 521.55L665.86 521.39L666.07 521.46L666.29 520.86L666.5 520.97L666.71 521.51L666.92 521.29L667.14 521.52L667.35 520.99L667.56 520.33L667.77 521.01L667.99 520.65L668.2 520.49L668.41 520.27L668.62 520.44L668.84 521.43L669.05 520.79L669.26 521.29L669.47 521.3L669.69 520.25L669.9 521.39L670.11 521.3L670.32 521.02L670.53 520.67L670.75 520.11L670.96 521.58L671.17 521.54L671.38 520.46L671.6 521.43L671.81 520.51L672.02 520.46L672.23 521.59L672.45 520.42L672.66 521.34L672.87 520.79L673.08 521.24L673.3 521.29L673.51 521.57L673.72 521.19L673.93 521.33L674.15 520.88L674.36 521.19L674.57 521.53L674.78 519.79L674.99 521.55L675.21 520.95L675.42 520.87L675.63 520.29L675.84 520.58L676.06 521.12L676.27 521.15L676.48 521.19L676.69 521.07L676.91 521.15L677.12 520.92L677.33 521.23L677.54 520.57L677.76 520.49L677.97 520.12L678.18 521.59L678.39 521.15L678.61 520.99L678.82 521.59L679.03 521.58L679.24 521.27L679.45 520.78L679.67 521.5L679.88 520.81L680.09 521.13L680.3 521.59L680.52 521.46L680.73 521.23L680.94 520.63L681.15 521.32L681.37 521.41L681.58 521.16L681.79 520.36L682 521.26L682.22 520.77L682.43 520.96L682.64 519.96L682.85 521.02L683.07 521.22L683.28 520.72L683.49 518.18L683.7 521.52L683.91 520.91L684.13 520.84L684.34 520.22L684.55 521.58L684.76 520.27L684.98 521.26L685.19 520.14L685.4 521.33L685.61 519.6L685.83 521.34L686.04 521.04L686.25 521.4L686.46 521.59L686.68 519.73L686.89 521.26L687.1 520.73L687.31 520.45L687.53 521.3L687.74 520.58L687.95 521.42L688.16 521.1L688.38 521.24L688.59 521.17L688.8 521.14L689.01 521.52L689.22 521.15L689.44 520.82L689.65 521.4L689.86 520.88L690.07 521.47L690.29 521.1L690.5 521.47L690.71 521.25L690.92 520.98L691.14 521.25L691.35 520.24L691.56 521.57L691.77 521.44L691.99 521.47L692.2 521.31L692.41 520.93L692.62 520.79L692.84 521.02L693.05 521.19L693.26 520.4L693.47 520.3L693.68 521.3L693.9 520.28L694.11 521.45L694.32 519.72L694.53 521.51L694.75 520.61L694.96 520.42L695.17 521.39L695.38 520.53L695.6 520.57L695.81 520.76L696.02 521.57L696.23 521.58L696.45 520.33L696.66 521.34L696.87 521.54L697.08 520.88L697.3 521.31L697.51 521.19L697.72 519.78L697.93 517.21L698.14 517.35L698.36 521.16L698.57 520.78L698.78 520.4L698.99 520.73L699.21 520.43L699.42 521.26L699.63 519.76L699.84 519.69L700.06 520.89L700.27 521.19L700.48 519.92L700.69 521.25L700.91 519.48L701.12 521.32L701.33 519.78L701.54 521.19L701.76 520.45L701.97 521.53L702.18 519.99L702.39 520.99L702.6 521.47L702.82 521.18L703.03 521.33L703.24 520.8L703.45 520.36L703.67 521.07L703.88 521.39L704.09 520.81L704.3 520.83L704.52 520.93L704.73 520.8L704.94 521.35L705.15 519.71L705.37 520.87L705.58 512.83L705.79 513.09L706 521.07L706.22 520.7L706.43 521.27L706.64 520.95L706.85 521.51L707.06 521.16L707.28 521.46L707.49 520.54L707.7 521.51L707.91 520.83L708.13 520.68L708.34 521.46L708.55 518.93L708.76 521.13L708.98 521.53L709.19 520.22L709.4 521.54L709.61 520.86L709.83 520.99L710.04 521.4L710.25 520.33L710.46 521.42L710.68 521.3L710.89 520.84L711.1 520.99L711.31 520.9L711.52 520.36L711.74 520.95L711.95 521.43L712.16 521.27L712.37 520.65L712.59 520.71L712.8 521.47L713.01 521.14L713.22 520.1L713.44 521.43L713.65 520.74L713.86 521.38L714.07 520.49L714.29 519.77L714.5 520.95L714.71 521.55L714.92 521.1L715.14 520.7L715.35 521.47L715.56 520.93L715.77 521.51L715.98 519.9L716.2 521.1L716.41 521.16L716.62 520.54L716.83 520.92L717.05 520.99L717.26 521.19L717.47 521.31L717.68 520.95L717.9 520.34L718.11 518.44L718.32 521.33L718.53 521.31L718.75 521.32L718.96 521.08L719.17 521.08L719.38 520.65L719.6 521.6L719.81 521.25L720.02 521.1L720.23 520.86L720.45 519.58L720.66 521.53L720.87 521.13L721.08 521.35L721.29 521.21L721.51 520.92L721.72 521.26L721.93 521.24L722.14 521.19L722.36 519.68L722.57 521.14L722.78 521.51L722.99 521.56L723.21 521.21L723.42 517.84L723.63 517.95L723.84 521.03L724.06 521.49L724.27 521.17L724.48 521.16L724.69 521.28L724.91 519.32L725.12 520.91L725.33 521.46L725.54 521.13L725.75 521.05L725.97 521.05L726.18 521.37L726.39 521.32L726.6 520.49L726.82 520.61L727.03 520.5L727.24 521.48L727.45 519.71L727.67 520.97L727.88 521.24L728.09 519.86L728.3 520.53L728.52 521.58L728.73 520.57L728.94 521.56L729.15 521.26L729.37 520.82L729.58 521.49L729.79 521.01L730 517.97L730.21 520.07L730.43 521.11L730.64 520.95L730.85 521.58L731.06 521.46L731.28 521.51L731.49 520.58L731.7 521.03L731.91 517.21L732.13 517.35L732.34 521.29L732.55 520.64L732.76 521.27L732.98 521.24L733.19 521.58L733.4 521.27L733.61 521.27L733.83 520.46L734.04 521.21L734.25 521.05L734.46 520.15L734.67 520.89L734.89 520.14L735.1 521.59L735.31 520.49L735.52 520.67L735.74 518.68L735.95 521.33L736.16 520.88L736.37 521.46L736.59 521.27L736.8 520.95L737.01 519.27L737.22 521.15L737.44 521.58L737.65 520.48L737.86 521.51L738.07 521.44L738.29 521.09L738.5 521.03L738.71 520.62L738.92 520.71L739.13 520.81L739.35 520.59L739.56 521.04L739.77 520.2L739.98 521L740.2 521L740.41 520.08L740.62 521.51L740.83 521.46L741.05 521.31L741.26 521.57L741.47 520.52L741.68 521.3L741.9 521.28L742.11 520.38L742.32 521.09L742.53 520.18L742.75 520.23L742.96 521.12L743.17 521.39L743.38 521.34L743.6 520.46L743.81 520.8L744.02 521.07L744.23 520.9L744.44 521.29L744.66 520.36L744.87 521.37L745.08 521.56L745.29 521.48L745.51 521.05L745.72 520.58L745.93 520.85L746.14 520.79L746.36 521.06L746.57 521.4L746.78 518.54L746.99 521.09L747.21 521.19L747.42 521.24L747.63 520.55L747.84 521.11L748.06 521.57L748.27 520.67L748.48 520.72L748.69 521.3L748.9 518.47L749.12 518.56L749.33 520.98L749.54 519.67L749.75 520.98L749.97 520.69L750.18 520.57L750.39 520.11L750.6 520.81L750.82 519.94L751.03 521.4L751.24 520.8L751.45 520.71L751.67 521.58L751.88 520.58L752.09 520.68L752.3 521.22L752.52 521.48L752.73 521L752.94 521.6L753.15 520.76L753.36 520.75L753.58 521.02L753.79 521.33L754 520.88L754.21 521.01L754.43 520.5L754.64 521.39L754.85 520.48L755.06 521.33L755.28 520.97L755.49 520.89L755.7 521.31L755.91 521.54L756.13 520.99L756.34 521.34L756.55 521.28L756.76 521.58L756.98 521.04L757.19 520.73L757.4 519.69" fill="none" stroke="#ff8000" stroke-width="2.0" stroke-linejoin="round"/>
<text x="496.8" y="335.5" font-size="26.2">Ethanol</text>
<path d="M645.55 421.9L657.15 411.7M557.83 457.38L570.47 444.92M547.97 508.78L528.93 490.22M637.78 505.28L618.42 485.92" stroke="#000" stroke-width="2.5" stroke-linecap="round" fill="none"/>
<text transform="translate(666 416.5) rotate(-45) scale(1 1.04)" font-size="26.3" text-anchor="start">435</text>
<text transform="translate(579.2 450) rotate(-45) scale(1 1.04)" font-size="26.3" text-anchor="start">229</text>
<text transform="translate(511.3 504.2) rotate(-45) scale(1 1.04)" font-size="26.3" text-anchor="start">207</text>
<text transform="translate(600 501.5) rotate(-45) scale(1 1.04)" font-size="26.3" text-anchor="start">413</text>
<text transform="translate(470.4 772.2) scale(1 1.04)" font-size="26.5" text-anchor="end">0</text>
<text transform="translate(470.4 709.74) scale(1 1.04)" font-size="26.5" text-anchor="end">100</text>
<text transform="translate(470.4 647.29) scale(1 1.04)" font-size="26.5" text-anchor="end">200</text>
<text transform="translate(470.4 584.83) scale(1 1.04)" font-size="26.5" text-anchor="end">300</text>
<rect x="481.3" y="545.9" width="276.1" height="218.6" fill="none" stroke="#000" stroke-width="2.2" stroke-linejoin="round"/>
<path d="M545.02 545.9v10.4M545.02 764.5v-10.4M629.97 545.9v10.4M629.97 764.5v-10.4M714.92 545.9v10.4M714.92 764.5v-10.4M502.54 545.9v5.9M502.54 764.5v-5.9M587.49 545.9v5.9M587.49 764.5v-5.9M672.45 545.9v5.9M672.45 764.5v-5.9M481.3 702.04h10.4M757.4 702.04h-10.4M481.3 639.59h10.4M757.4 639.59h-10.4M481.3 577.13h10.4M757.4 577.13h-10.4M481.3 733.27h5.9M757.4 733.27h-5.9M481.3 670.81h5.9M757.4 670.81h-5.9M481.3 608.36h5.9M757.4 608.36h-5.9" fill="none" stroke="#000" stroke-width="2.2"/>
<path d="M481.3 764.41L481.51 763.5L481.72 763.68L481.94 762.84L482.15 763.66L482.36 764.31L482.57 763.44L482.79 763.61L483 764.33L483.21 764.17L483.42 764.45L483.64 764.31L483.85 763.13L484.06 764.25L484.27 763.37L484.49 762.99L484.7 763.81L484.91 763.11L485.12 764.27L485.34 763.28L485.55 764.14L485.76 763.55L485.97 762.89L486.18 762.68L486.4 764.07L486.61 764.34L486.82 763.92L487.03 764.21L487.25 764.12L487.46 763.98L487.67 762.75L487.88 764.33L488.1 764.17L488.31 764.46L488.52 763.81L488.73 763.71L488.95 763.55L489.16 763.13L489.37 764.15L489.58 763.48L489.8 764.04L490.01 763.61L490.22 763.97L490.43 764.34L490.64 763.21L490.86 764.3L491.07 764.37L491.28 762.66L491.49 764.47L491.71 763.68L491.92 764.1L492.13 763.82L492.34 763.57L492.56 764.22L492.77 763.78L492.98 764.41L493.19 763.08L493.41 764.45L493.62 763.49L493.83 763.49L494.04 764.22L494.26 764.21L494.47 763.32L494.68 764.22L494.89 764L495.11 764.32L495.32 764.24L495.53 763.73L495.74 764.06L495.95 763.13L496.17 763.82L496.38 764.11L496.59 763.33L496.8 764.1L497.02 764.43L497.23 763.58L497.44 764.1L497.65 763.59L497.87 763.98L498.08 763.02L498.29 761.38L498.5 761.47L498.72 764.12L498.93 764.41L499.14 763.91L499.35 764.42L499.57 764.32L499.78 764.28L499.99 763.79L500.2 763.72L500.41 763.91L500.63 764.29L500.84 764.5L501.05 763.47L501.26 763.6L501.48 763.2L501.69 763.92L501.9 763.7L502.11 763.75L502.33 764.05L502.54 763.73L502.75 764.12L502.96 764.27L503.18 764.09L503.39 763.36L503.6 764.11L503.81 763.59L504.03 764.3L504.24 764.49L504.45 763.83L504.66 764.26L504.87 764.07L505.09 764.41L505.3 764.31L505.51 764.43L505.72 764.49L505.94 764.07L506.15 763.8L506.36 764.27L506.57 763.86L506.79 764.49L507 764.35L507.21 764.45L507.42 764.25L507.64 763.67L507.85 764.38L508.06 763.47L508.27 763.72L508.49 763.47L508.7 763.57L508.91 763.57L509.12 764.21L509.33 764.12L509.55 764.46L509.76 764.04L509.97 764.37L510.18 763.72L510.4 764.18L510.61 763.71L510.82 764.44L511.03 763.67L511.25 763.63L511.46 764.42L511.67 763.28L511.88 763.87L512.1 764.13L512.31 764.27L512.52 764.04L512.73 764.08L512.95 764L513.16 764.02L513.37 764.26L513.58 764.31L513.79 763.79L514.01 762.19L514.22 764.01L514.43 764.47L514.64 763.99L514.86 763.78L515.07 764.45L515.28 764.2L515.49 763.55L515.71 764.09L515.92 764.49L516.13 764.48L516.34 764.14L516.56 764.28L516.77 763.59L516.98 764.47L517.19 764.13L517.41 764.1L517.62 763.94L517.83 763.43L518.04 764.09L518.25 764.42L518.47 764.35L518.68 764.02L518.89 763.87L519.1 764.24L519.32 764.27L519.53 763.1L519.74 763.62L519.95 763.91L520.17 764.34L520.38 763.92L520.59 763.31L520.8 764.39L521.02 764.44L521.23 764.43L521.44 764.16L521.65 764.07L521.87 764.23L522.08 764.49L522.29 763.49L522.5 764.04L522.72 764.3L522.93 764.18L523.14 764L523.35 764.27L523.56 763.61L523.78 763.7L523.99 764.36L524.2 763.3L524.41 764.11L524.63 764.01L524.84 763.82L525.05 764.01L525.26 762.96L525.48 764.19L525.69 764.48L525.9 764.47L526.11 763.54L526.33 763.59L526.54 764.41L526.75 764.19L526.96 763.52L527.18 762.97L527.39 763.6L527.6 763.67L527.81 763.91L528.02 764.33L528.24 764.06L528.45 763.61L528.66 764.01L528.87 763.16L529.09 763.45L529.3 764.16L529.51 762.58L529.72 764.05L529.94 764.06L530.15 764.22L530.36 763.5L530.57 764.37L530.79 763.94L531 764.32L531.21 763.3L531.42 763.41L531.64 764.4L531.85 763.97L532.06 764.21L532.27 763.62L532.48 764.48L532.7 763.85L532.91 764.3L533.12 764.07L533.33 763.86L533.55 764.34L533.76 763.31L533.97 764.19L534.18 763.52L534.4 764.21L534.61 763.71L534.82 764.22L535.03 764.44L535.25 764.03L535.46 764.2L535.67 764.49L535.88 763.75L536.1 764.43L536.31 764L536.52 764.32L536.73 762.94L536.94 763.99L537.16 763.32L537.37 764.11L537.58 763.94L537.79 764.34L538.01 764.35L538.22 763.7L538.43 764.28L538.64 764.19L538.86 764.08L539.07 763.74L539.28 764.06L539.49 763.16L539.71 762.89L539.92 763.09L540.13 763.4L540.34 764.05L540.56 763.53L540.77 763.32L540.98 763.64L541.19 763.99L541.4 764.25L541.62 764.2L541.83 764.05L542.04 763.08L542.25 763.57L542.47 763.69L542.68 763.46L542.89 764.24L543.1 764.24L543.32 764.01L543.53 763.48L543.74 764.15L543.95 763.98L544.17 763.64L544.38 764.19L544.59 764.34L544.8 764.4L545.02 762.99L545.23 763.48L545.44 763.49L545.65 764.17L545.86 763.88L546.08 763.86L546.29 763.1L546.5 763.73L546.71 764.33L546.93 762.43L547.14 764.33L547.35 763.16L547.56 764.09L547.78 763.71L547.99 764.31L548.2 764.11L548.41 764.38L548.63 763.88L548.84 763.94L549.05 764.42L549.26 764.38L549.48 763.44L549.69 764.35L549.9 763.86L550.11 763.76L550.33 763.67L550.54 764.05L550.75 764.11L550.96 763.84L551.17 764.3L551.39 764.44L551.6 764.04L551.81 764.19L552.02 762.66L552.24 764.41L552.45 763.27L552.66 763.88L552.87 764.14L553.09 763.99L553.3 763.55L553.51 764.1L553.72 764.11L553.94 763.72L554.15 764.47L554.36 764.27L554.57 764.41L554.79 764.18L555 763.77L555.21 763.67L555.42 763.08L555.63 763.64L555.85 764.46L556.06 764.03L556.27 763.84L556.48 764.44L556.7 764.36L556.91 763.93L557.12 760.6L557.33 715.78L557.55 717.24L557.76 761.58L557.97 761.38L558.18 761.47L558.4 764.2L558.61 764.41L558.82 763.35L559.03 764.21L559.25 763.9L559.46 764.17L559.67 763.46L559.88 763.88L560.09 764.49L560.31 764.05L560.52 763.92L560.73 763.44L560.94 764.28L561.16 763.08L561.37 762.33L561.58 763.23L561.79 763.22L562.01 764.19L562.22 763.29L562.43 763.95L562.64 764.4L562.86 763.49L563.07 764.28L563.28 764.22L563.49 764.03L563.71 764L563.92 763.93L564.13 763.99L564.34 762.58L564.55 764.04L564.77 764.12L564.98 764.11L565.19 764.49L565.4 763.99L565.62 763.72L565.83 763.75L566.04 764.2L566.25 760.75L566.47 760.86L566.68 764.28L566.89 763.87L567.1 764.13L567.32 763.82L567.53 763.19L567.74 763.98L567.95 763.52L568.17 764.19L568.38 763.8L568.59 764.43L568.8 763.61L569.01 763.61L569.23 764.5L569.44 764.06L569.65 763.62L569.86 764.19L570.08 764.22L570.29 764.5L570.5 764.19L570.71 763.98L570.93 763.42L571.14 763.69L571.35 763.58L571.56 764.48L571.78 763.68L571.99 763.81L572.2 763.78L572.41 763.08L572.63 764.32L572.84 763.97L573.05 764.27L573.26 764.47L573.47 764.3L573.69 763.35L573.9 762.06L574.11 764.1L574.32 763.28L574.54 764.41L574.75 762.3L574.96 764.03L575.17 764.21L575.39 764.46L575.6 763.48L575.81 763.44L576.02 764.43L576.24 764.42L576.45 763.82L576.66 763.53L576.87 763.32L577.09 763.54L577.3 763.38L577.51 763.85L577.72 764.25L577.93 763.88L578.15 763.46L578.36 761.04L578.57 764.45L578.78 764.03L579 762.16L579.21 764.01L579.42 764.26L579.63 763.96L579.85 763.88L580.06 764.21L580.27 763.94L580.48 764.05L580.7 763.67L580.91 763.11L581.12 763.79L581.33 762.9L581.55 764.05L581.76 764.24L581.97 764.02L582.18 764.49L582.4 764.27L582.61 763.59L582.82 763.97L583.03 763.96L583.24 763.48L583.46 764.33L583.67 762.7L583.88 764.01L584.09 763.4L584.31 764.26L584.52 764.48L584.73 764.29L584.94 764.21L585.16 763.78L585.37 763.59L585.58 764.02L585.79 763.1L586.01 764.12L586.22 764.23L586.43 763.91L586.64 763.67L586.86 764.29L587.07 764.15L587.28 764.41L587.49 764.11L587.7 764.36L587.92 763.84L588.13 764.46L588.34 764.22L588.55 764.29L588.77 764.02L588.98 764.44L589.19 764.07L589.4 763.75L589.62 764.43L589.83 764L590.04 764.2L590.25 764.48L590.47 764.23L590.68 764.23L590.89 763.95L591.1 764.38L591.32 762.27L591.53 763.18L591.74 763.64L591.95 764.32L592.16 763.41L592.38 764.37L592.59 764.45L592.8 764.37L593.01 763.96L593.23 763.8L593.44 764.43L593.65 763.6L593.86 763.88L594.08 763.86L594.29 763.58L594.5 763.77L594.71 762.57L594.93 763.36L595.14 764.25L595.35 763.78L595.56 764.02L595.78 764.45L595.99 763.85L596.2 763.3L596.41 764.13L596.62 763.51L596.84 763.62L597.05 764.26L597.26 764.41L597.47 762.74L597.69 763.69L597.9 763.32L598.11 764.27L598.32 761.38L598.54 764.5L598.75 764.42L598.96 764.49L599.17 763.33L599.39 763.96L599.6 763.92L599.81 764.35L600.02 763.37L600.24 764.04L600.45 763.94L600.66 764.06L600.87 763.77L601.08 764.05L601.3 764.43L601.51 763.7L601.72 763.68L601.93 763.79L602.15 763.79L602.36 763.6L602.57 764.44L602.78 762.17L603 764.26L603.21 763.87L603.42 763.89L603.63 763.26L603.85 764.47L604.06 763.5L604.27 764.18L604.48 763.75L604.7 763.28L604.91 764.04L605.12 764.05L605.33 764.33L605.54 764.45L605.76 763.17L605.97 762.86L606.18 764.14L606.39 762.93L606.61 764.29L606.82 764.02L607.03 763.66L607.24 763.93L607.46 763.8L607.67 763.36L607.88 763.16L608.09 763.87L608.31 763.92L608.52 764.22L608.73 763.48L608.94 763.79L609.16 763.96L609.37 764.17L609.58 763.75L609.79 763.27L610.01 764.36L610.22 764.21L610.43 763.44L610.64 764.13L610.85 764.15L611.07 762.3L611.28 764.41L611.49 764.26L611.7 764.2L611.92 764.28L612.13 763.51L612.34 763.85L612.55 764.26L612.77 763.89L612.98 763.43L613.19 763.75L613.4 763.2L613.62 763.96L613.83 763.86L614.04 763.48L614.25 764.24L614.47 764.17L614.68 763.3L614.89 762.87L615.1 763.87L615.31 763.9L615.53 763.55L615.74 764.16L615.95 764.22L616.16 763.74L616.38 763.75L616.59 763.92L616.8 763.68L617.01 763.03L617.23 763.79L617.44 763.8L617.65 763.87L617.86 763.62L618.08 764.35L618.29 764.2L618.5 763.72L618.71 764.11L618.93 763.39L619.14 763.28L619.35 764.4L619.56 764.22L619.77 763.58L619.99 764.46L620.2 763.82L620.41 764.25L620.62 763.1L620.84 763.62L621.05 764.19L621.26 764.11L621.47 764.16L621.69 762.53L621.9 764.04L622.11 764.28L622.32 763.41L622.54 762.73L622.75 763.06L622.96 764.41L623.17 763.98L623.39 763.52L623.6 763.96L623.81 764.23L624.02 764.11L624.23 763.8L624.45 763.82L624.66 762.77L624.87 763.94L625.08 763.6L625.3 764.2L625.51 763.34L625.72 763.25L625.93 762.35L626.15 763.83L626.36 763.87L626.57 763.58L626.78 763.47L627 763.75L627.21 763.4L627.42 764.07L627.63 764.26L627.85 764.41L628.06 763.72L628.27 763.39L628.48 764.18L628.69 764.42L628.91 763.06L629.12 763.5L629.33 762.77L629.54 763.36L629.76 763.86L629.97 764.13L630.18 763.63L630.39 764.04L630.61 763.83L630.82 764.23L631.03 764.14L631.24 764.2L631.46 762.82L631.67 763.29L631.88 763.18L632.09 764.46L632.31 764.15L632.52 763.36L632.73 763.89L632.94 762.65L633.15 764.4L633.37 763.63L633.58 764.2L633.79 764.39L634 761.24L634.22 763.95L634.43 764.14L634.64 764.18L634.85 763.87L635.07 764.39L635.28 763.01L635.49 763.93L635.7 764.05L635.92 764.44L636.13 764.45L636.34 764.06L636.55 764.41L636.77 763.73L636.98 764.29L637.19 763.81L637.4 764L637.62 763.47L637.83 764.26L638.04 762.79L638.25 763.78L638.46 764.29L638.68 763.27L638.89 762.72L639.1 764.45L639.31 763.84L639.53 763.82L639.74 763.61L639.95 763.99L640.16 764.43L640.38 762.82L640.59 764.21L640.8 763.21L641.01 764.06L641.23 763.56L641.44 762.59L641.65 764.33L641.86 764.44L642.08 764.01L642.29 764.45L642.5 763.97L642.71 764.08L642.92 764.3L643.14 764.17L643.35 763.08L643.56 763.4L643.77 763.79L643.99 763.7L644.2 764.32L644.41 762.92L644.62 757.03L644.84 671.13L645.05 673.93L645.26 758.9L645.47 758.88L645.69 759.05L645.9 764.16L646.11 763.89L646.32 763.62L646.54 763.74L646.75 763.63L646.96 764.09L647.17 763.22L647.38 759.5L647.6 759.65L647.81 763.36L648.02 764.47L648.23 764.06L648.45 763.97L648.66 763.83L648.87 763.13L649.08 764.46L649.3 764.06L649.51 764.49L649.72 764.28L649.93 763.4L650.15 763.83L650.36 764.03L650.57 764.4L650.78 764.12L651 763.54L651.21 764.07L651.42 763.95L651.63 763.9L651.84 764.26L652.06 764.24L652.27 764.19L652.48 763.51L652.69 764.47L652.91 764.34L653.12 762.82L653.33 762.94L653.54 763.42L653.76 763.22L653.97 764.17L654.18 764.32L654.39 764.18L654.61 763.5L654.82 764.18L655.03 763.9L655.24 763.83L655.46 764.28L655.67 763.81L655.88 763.17L656.09 763.53L656.3 763.64L656.52 763.95L656.73 763.97L656.94 764.18L657.15 763.9L657.37 763.83L657.58 763.95L657.79 763.97L658 763.95L658.22 762.98L658.43 764.24L658.64 764.29L658.85 764.38L659.07 764.02L659.28 763.91L659.49 764.4L659.7 764.09L659.92 763.92L660.13 764.13L660.34 762.15L660.55 764.44L660.76 764.44L660.98 764.37L661.19 763.97L661.4 763.84L661.61 764.37L661.83 764.19L662.04 763.77L662.25 764.45L662.46 761.66L662.68 764.5L662.89 764.47L663.1 763.89L663.31 763.96L663.53 764.21L663.74 763.51L663.95 763.12L664.16 764.06L664.38 763.91L664.59 764.35L664.8 764.44L665.01 763.83L665.23 764.2L665.44 763.62L665.65 762.84L665.86 763.51L666.07 764.42L666.29 763.95L666.5 763.55L666.71 761.75L666.92 763.03L667.14 764.43L667.35 764.43L667.56 763.82L667.77 764.48L667.99 763.94L668.2 763.51L668.41 764.09L668.62 763.09L668.84 764.43L669.05 764.16L669.26 763.66L669.47 763.64L669.69 764.11L669.9 763.7L670.11 762.6L670.32 763.01L670.53 763.82L670.75 764.3L670.96 763.95L671.17 763.73L671.38 762.61L671.6 763.89L671.81 763.37L672.02 764.2L672.23 763.42L672.45 764.47L672.66 764.22L672.87 764.27L673.08 764.1L673.3 763.85L673.51 763.66L673.72 764.07L673.93 763.8L674.15 763.69L674.36 764.21L674.57 763.54L674.78 763.79L674.99 763.96L675.21 763.62L675.42 763.58L675.63 763.66L675.84 764.36L676.06 763.85L676.27 763.92L676.48 764.16L676.69 764.28L676.91 764.31L677.12 763.71L677.33 763.87L677.54 763.92L677.76 764.36L677.97 764.22L678.18 764.26L678.39 764.29L678.61 764.06L678.82 764.48L679.03 763.24L679.24 763.76L679.45 764.04L679.67 764.24L679.88 763.7L680.09 764.24L680.3 763.74L680.52 763.81L680.73 764.44L680.94 764.05L681.15 764.14L681.37 764.05L681.58 763.59L681.79 764.46L682 763.89L682.22 762.17L682.43 764.23L682.64 764.43L682.85 763.78L683.07 763.09L683.28 763.33L683.49 763.86L683.7 764.38L683.91 764.05L684.13 763.9L684.34 763.76L684.55 764.02L684.76 764.5L684.98 763.15L685.19 763.75L685.4 764.11L685.61 763.05L685.83 762.83L686.04 763.91L686.25 762.91L686.46 764.17L686.68 762.96L686.89 764.01L687.1 764.01L687.31 761.64L687.53 763.99L687.74 764.23L687.95 764.21L688.16 763.23L688.38 764.35L688.59 763.11L688.8 764.2L689.01 764.42L689.22 764.38L689.44 764.21L689.65 764.37L689.86 764.37L690.07 763.5L690.29 764.03L690.5 763.25L690.71 763.54L690.92 763.78L691.14 764.44L691.35 763.95L691.56 764.28L691.77 764.09L691.99 764.21L692.2 764.01L692.41 764.09L692.62 763.91L692.84 764.3L693.05 763.96L693.26 764.34L693.47 763.84L693.68 764.08L693.9 763.61L694.11 764.39L694.32 763.46L694.53 764.36L694.75 763.4L694.96 763.21L695.17 763.23L695.38 764L695.6 764.06L695.81 763.76L696.02 764.21L696.23 764.1L696.45 763.51L696.66 764.04L696.87 764.28L697.08 764.31L697.3 764.31L697.51 764.44L697.72 763.55L697.93 763.64L698.14 763.17L698.36 763.94L698.57 763.04L698.78 762.93L698.99 763.52L699.21 763.84L699.42 763.69L699.63 764L699.84 763.53L700.06 764.24L700.27 763.77L700.48 764.37L700.69 764.41L700.91 763.98L701.12 763.94L701.33 764.43L701.54 763.86L701.76 763.6L701.97 764.43L702.18 764.36L702.39 764.13L702.6 763.07L702.82 764.43L703.03 764.27L703.24 764.17L703.45 764.44L703.67 763.85L703.88 764.24L704.09 763.94L704.3 761.58L704.52 764.26L704.73 763.4L704.94 764.14L705.15 763.88L705.37 763.55L705.58 752.63L705.79 752.99L706 763.79L706.22 763.91L706.43 764.39L706.64 762.8L706.85 763.99L707.06 764.4L707.28 763.89L707.49 763.9L707.7 764.23L707.91 763.68L708.13 763.47L708.34 764L708.55 763.47L708.76 764.12L708.98 763.3L709.19 763.42L709.4 763.92L709.61 763.79L709.83 763.65L710.04 764.18L710.25 763.7L710.46 763.65L710.68 763.87L710.89 763.8L711.1 764.43L711.31 763.48L711.52 764.49L711.74 764.38L711.95 763.35L712.16 763.58L712.37 764.48L712.59 764.22L712.8 763.73L713.01 763.66L713.22 764.31L713.44 764.38L713.65 764.43L713.86 763.57L714.07 764.12L714.29 763.81L714.5 764.12L714.71 763.92L714.92 760.75L715.14 760.86L715.35 764.28L715.56 763.56L715.77 764.16L715.98 763.82L716.2 764.15L716.41 763.53L716.62 763.08L716.83 764.06L717.05 764.3L717.26 763.88L717.47 763.81L717.68 764.44L717.9 764.21L718.11 764.22L718.32 763.5L718.53 763.58L718.75 763.43L718.96 763.85L719.17 764.08L719.38 763.71L719.6 764.07L719.81 763.15L720.02 764.09L720.23 763.49L720.45 763.75L720.66 764.32L720.87 763.94L721.08 763.06L721.29 763.93L721.51 763.58L721.72 763.87L721.93 764.29L722.14 764.5L722.36 763.08L722.57 764.22L722.78 763.82L722.99 764.06L723.21 763.19L723.42 763.92L723.63 763.77L723.84 763.16L724.06 762.83L724.27 763.47L724.48 764L724.69 764.12L724.91 764.1L725.12 764.43L725.33 763.63L725.54 762.74L725.75 764.36L725.97 764.35L726.18 763.81L726.39 764.33L726.6 764.49L726.82 762.29L727.03 763.87L727.24 764.01L727.45 764.24L727.67 764.44L727.88 763.73L728.09 763.9L728.3 763.92L728.52 764.12L728.73 763.85L728.94 763.8L729.15 763.56L729.37 764.03L729.58 763.88L729.79 764.11L730 764.47L730.21 763.89L730.43 763.94L730.64 763.91L730.85 763.86L731.06 762.35L731.28 763.85L731.49 763.74L731.7 763.43L731.91 763.81L732.13 763.43L732.34 764.38L732.55 763.16L732.76 764.26L732.98 763.34L733.19 763.04L733.4 764.34L733.61 764.2L733.83 764.41L734.04 764.35L734.25 763.93L734.46 764.19L734.67 764.07L734.89 764.01L735.1 763.83L735.31 763.95L735.52 763.82L735.74 764.31L735.95 763.75L736.16 764.19L736.37 763.94L736.59 764.2L736.8 761.71L737.01 763.88L737.22 763.52L737.44 764.39L737.65 764.23L737.86 764.43L738.07 764.02L738.29 764.4L738.5 763.97L738.71 763.64L738.92 764.02L739.13 764.21L739.35 763.59L739.56 763.53L739.77 764.35L739.98 764.1L740.2 764.2L740.41 763.37L740.62 764.2L740.83 763.83L741.05 763.9L741.26 763.41L741.47 763.79L741.68 764.07L741.9 763.83L742.11 764.49L742.32 763.15L742.53 764.45L742.75 763.92L742.96 763.22L743.17 764.48L743.38 764.27L743.6 764.42L743.81 764.42L744.02 764.42L744.23 764.49L744.44 764.43L744.66 764.37L744.87 764.37L745.08 763.42L745.29 764.39L745.51 764.46L745.72 761.5L745.93 763.93L746.14 764.35L746.36 764.23L746.57 763.7L746.78 763.68L746.99 763.97L747.21 764.25L747.42 764.37L747.63 764.05L747.84 764.38L748.06 764.2L748.27 764.14L748.48 764.16L748.69 763.76L748.9 763.78L749.12 764.3L749.33 763.9L749.54 763.77L749.75 764.32L749.97 763.48L750.18 763.81L750.39 764.43L750.6 764.22L750.82 764.33L751.03 764.08L751.24 761.4L751.45 764.19L751.67 764.33L751.88 764.25L752.09 764.39L752.3 763.47L752.52 764.34L752.73 764.11L752.94 763.64L753.15 764.46L753.36 763.91L753.58 763.87L753.79 763.39L754 763.88L754.21 764.2L754.43 763.99L754.64 763.23L754.85 764.2L755.06 764.34L755.28 764.45L755.49 763.88L755.7 763.56L755.91 763.52L756.13 764.35L756.34 764.46L756.55 763.72L756.76 762.88L756.98 764.33L757.19 764.49L757.4 763" fill="none" stroke="#b9d100" stroke-width="2.0" stroke-linejoin="round"/>
<text x="497.2" y="579.5" font-size="26.2">Acetonitrile</text>
<path d="M645.56 671.01L657.94 660.39M557.86 715.41L570.24 704.79" stroke="#000" stroke-width="2.5" stroke-linecap="round" fill="none"/>
<text transform="translate(665 662.8) rotate(-45) scale(1 1.04)" font-size="26.3" text-anchor="start">435</text>
<text transform="translate(578.4 707.8) rotate(-45) scale(1 1.04)" font-size="26.3" text-anchor="start">229</text>
<text transform="translate(470.4 1014.7) scale(1 1.04)" font-size="26.5" text-anchor="end">0</text>
<text transform="translate(470.4 952.27) scale(1 1.04)" font-size="26.5" text-anchor="end">200</text>
<text transform="translate(470.4 889.84) scale(1 1.04)" font-size="26.5" text-anchor="end">400</text>
<text transform="translate(470.4 827.41) scale(1 1.04)" font-size="26.5" text-anchor="end">600</text>
<rect x="481.3" y="788.5" width="276.1" height="218.5" fill="none" stroke="#000" stroke-width="2.2" stroke-linejoin="round"/>
<path d="M545.02 788.5v10.4M545.02 1007v-10.4M629.97 788.5v10.4M629.97 1007v-10.4M714.92 788.5v10.4M714.92 1007v-10.4M502.54 788.5v5.9M502.54 1007v-5.9M587.49 788.5v5.9M587.49 1007v-5.9M672.45 788.5v5.9M672.45 1007v-5.9M481.3 944.57h10.4M757.4 944.57h-10.4M481.3 882.14h10.4M757.4 882.14h-10.4M481.3 819.71h10.4M757.4 819.71h-10.4M481.3 975.79h5.9M757.4 975.79h-5.9M481.3 913.36h5.9M757.4 913.36h-5.9M481.3 850.93h5.9M757.4 850.93h-5.9" fill="none" stroke="#000" stroke-width="2.2"/>
<path d="M481.3 1006.17L481.51 1006.47L481.72 1006.87L481.94 1006.32L482.15 1006.85L482.36 1006.12L482.57 1006.79L482.79 1006.85L483 1006.76L483.21 1006.68L483.42 1007L483.64 1006.57L483.85 1005.41L484.06 1006.68L484.27 1006.52L484.49 1006.65L484.7 1006.35L484.91 1006.28L485.12 1006.76L485.34 1006.61L485.55 1006.99L485.76 1006.85L485.97 1006.95L486.18 1006.82L486.4 1006.82L486.61 1006.13L486.82 1006.78L487.03 1006.51L487.25 1006.07L487.46 1006.88L487.67 1005.85L487.88 1006.94L488.1 1006.76L488.31 1006.36L488.52 1006.17L488.73 1004.66L488.95 1006.95L489.16 1007L489.37 1006.59L489.58 1006.6L489.8 1006.25L490.01 1006.82L490.22 1006.17L490.43 1005.89L490.64 1006.79L490.86 1006.97L491.07 1006.45L491.28 1006.42L491.49 1006.66L491.71 1006.58L491.92 1006.89L492.13 1006.97L492.34 1006.2L492.56 1006.57L492.77 1006.16L492.98 1006.3L493.19 1006.81L493.41 1006.61L493.62 1006.37L493.83 1006.64L494.04 1006.76L494.26 1006.93L494.47 1006.73L494.68 1006.67L494.89 1006.48L495.11 1006.84L495.32 1005.82L495.53 1006.75L495.74 1006.86L495.95 1006.48L496.17 1006.99L496.38 1006.68L496.59 1006.54L496.8 1006.85L497.02 1006.36L497.23 1006.8L497.44 1006.05L497.65 1006.77L497.87 1006.4L498.08 1006.28L498.29 1006.63L498.5 1006.77L498.72 1006.45L498.93 1006.99L499.14 1006.9L499.35 1006.45L499.57 1005.96L499.78 1006.5L499.99 1006.94L500.2 1006.44L500.41 1006.55L500.63 1006.87L500.84 1006.01L501.05 1006.55L501.26 1005.6L501.48 1006.38L501.69 1006.96L501.9 1006.39L502.11 1006.33L502.33 1006.61L502.54 1006.62L502.75 1006.89L502.96 1006.69L503.18 1006.86L503.39 1006.86L503.6 1006.9L503.81 1006.97L504.03 1006.36L504.24 1006.65L504.45 1006.44L504.66 1006.45L504.87 1006.88L505.09 1006.26L505.3 1006.62L505.51 1006.92L505.72 1006.99L505.94 1006.64L506.15 1006.76L506.36 1006.71L506.57 1006.84L506.79 1006.47L507 1006.7L507.21 1006.8L507.42 1006.89L507.64 1006.61L507.85 1006.44L508.06 1005.33L508.27 1006.79L508.49 1006.42L508.7 1006.66L508.91 1006.32L509.12 1005.84L509.33 1005.67L509.55 1006.05L509.76 1006.27L509.97 1006.96L510.18 1006.75L510.4 1006.19L510.61 1006.74L510.82 1006.7L511.03 1006.66L511.25 1006.54L511.46 1006.49L511.67 1006.94L511.88 1006.73L512.1 1007L512.31 1006.88L512.52 1006.5L512.73 1006.23L512.95 1006.64L513.16 1006.6L513.37 1006.56L513.58 1006.68L513.79 1006.46L514.01 1006.93L514.22 1006.17L514.43 1006.4L514.64 1006.51L514.86 1006.91L515.07 1006.85L515.28 1006.23L515.49 1006.76L515.71 1006.52L515.92 1006.56L516.13 1006.82L516.34 1006.73L516.56 1006.78L516.77 1006.43L516.98 1006.56L517.19 1006.59L517.41 1006.38L517.62 1005.76L517.83 1006.14L518.04 1006.98L518.25 1006.74L518.47 1006.56L518.68 1006.79L518.89 1006.8L519.1 1006.69L519.32 1006.6L519.53 1006.76L519.74 1006.44L519.95 1006.9L520.17 1006.93L520.38 1006.39L520.59 1006.63L520.8 1006.15L521.02 1006.87L521.23 1006.84L521.44 1006.82L521.65 1006.46L521.87 1006.33L522.08 1006.38L522.29 1006.95L522.5 1005.44L522.72 1006.52L522.93 1006.85L523.14 1006.96L523.35 1006.75L523.56 1006.78L523.78 1006.55L523.99 1006.98L524.2 1006.14L524.41 1006.59L524.63 1006.32L524.84 1006.85L525.05 1006.51L525.26 1006.31L525.48 1006.91L525.69 1005.11L525.9 1006.88L526.11 1006.66L526.33 1006.68L526.54 1006.25L526.75 1006.02L526.96 1006.31L527.18 1006.67L527.39 1006.03L527.6 1006.17L527.81 1006.93L528.02 1006.35L528.24 1006.99L528.45 1006.71L528.66 1006.92L528.87 1006.55L529.09 1004.61L529.3 1006.79L529.51 1006.97L529.72 1006.66L529.94 1006.28L530.15 1006.99L530.36 1006.57L530.57 1006.8L530.79 1006.88L531 1006.86L531.21 1006.47L531.42 1006.33L531.64 1006.94L531.85 1006.81L532.06 1006.62L532.27 1006.31L532.48 1005.85L532.7 1005.39L532.91 1006.99L533.12 1005.18L533.33 1006.91L533.55 1006.71L533.76 1006.92L533.97 1006.01L534.18 1006.24L534.4 1005.93L534.61 1006.07L534.82 1006.42L535.03 1006.01L535.25 1006.6L535.46 1006.88L535.67 1006.29L535.88 1006.55L536.1 1006.89L536.31 1006.95L536.52 1006.24L536.73 1006.46L536.94 1006.72L537.16 1006.67L537.37 1006.7L537.58 1006.95L537.79 1005.99L538.01 1006.36L538.22 1005.95L538.43 1006.31L538.64 1006.85L538.86 1006.04L539.07 1006.98L539.28 1006.72L539.49 1006.29L539.71 1006.88L539.92 1006.65L540.13 1006.92L540.34 1006.89L540.56 1006.86L540.77 1006.69L540.98 1006.76L541.19 1006.44L541.4 1006.17L541.62 1006.56L541.83 1006.92L542.04 1006.77L542.25 1006.6L542.47 1006.71L542.68 1006.84L542.89 1006.72L543.1 1006.95L543.32 1006.86L543.53 1006.57L543.74 1006.54L543.95 1006.55L544.17 1006.43L544.38 1006.25L544.59 1006.32L544.8 1006.85L545.02 1006.7L545.23 1006.31L545.44 1006.74L545.65 1006.96L545.86 1006.94L546.08 1006.61L546.29 1006.98L546.5 1006.55L546.71 1001.38L546.93 1001.55L547.14 1006.32L547.35 1006.42L547.56 1006.95L547.78 1006.13L547.99 996.08L548.2 996.4L548.41 1006.34L548.63 1006.92L548.84 1006.65L549.05 1006.04L549.26 1006.72L549.48 1006.71L549.69 1006.99L549.9 1006.99L550.11 1006.46L550.33 1006.3L550.54 1006.52L550.75 1005.94L550.96 1006.71L551.17 1006.78L551.39 1006.47L551.6 1006.51L551.81 1006.54L552.02 1006.37L552.24 1005.97L552.45 1006.8L552.66 1006.95L552.87 1006.82L553.09 1006.69L553.3 1006.25L553.51 1006.41L553.72 1006.66L553.94 1006.8L554.15 1006.98L554.36 1006.35L554.57 1006.79L554.79 1006.91L555 1006.58L555.21 1006.6L555.42 1006.63L555.63 1006.74L555.85 1006.85L556.06 1006.66L556.27 1006.75L556.48 1006.03L556.7 1006.9L556.91 1006.82L557.12 1001.96L557.33 943.95L557.55 945.84L557.76 1003.22L557.97 1003.88L558.18 1003.97L558.4 1006.53L558.61 1006.53L558.82 1006.86L559.03 1006.57L559.25 1006.82L559.46 1006.65L559.67 1005.88L559.88 1006.8L560.09 1006.86L560.31 1006.86L560.52 1006.31L560.73 1006.46L560.94 1006.87L561.16 1006.61L561.37 1006.43L561.58 1006.2L561.79 1006.42L562.01 1006.18L562.22 1006.96L562.43 1006.56L562.64 1006.81L562.86 1006.66L563.07 1006.86L563.28 1006.51L563.49 1006.71L563.71 1007L563.92 1006.21L564.13 1006.16L564.34 1006.79L564.55 1006.42L564.77 1006.26L564.98 1006.24L565.19 1006.3L565.4 1006.54L565.62 1006.62L565.83 1006.53L566.04 1006.8L566.25 1006.72L566.47 1006.95L566.68 1006.89L566.89 1007L567.1 1006.63L567.32 1006.53L567.53 1006.09L567.74 1006.88L567.95 1006.75L568.17 1006.51L568.38 1006.87L568.59 1006.17L568.8 1006.56L569.01 1006.38L569.23 1006.61L569.44 1006.12L569.65 1006.54L569.86 1005.64L570.08 1006.57L570.29 1006.47L570.5 1006.89L570.71 1006.69L570.93 1006.91L571.14 1007L571.35 1006.73L571.56 1006.81L571.78 1006.07L571.99 1006.07L572.2 1006.4L572.41 1006.32L572.63 1006.8L572.84 1006.76L573.05 1006.46L573.26 1006.95L573.47 1006.42L573.69 1005.83L573.9 1006.28L574.11 1006.77L574.32 1006.9L574.54 1006.38L574.75 1006.39L574.96 1006.22L575.17 1005.54L575.39 1006.69L575.6 1006.55L575.81 1006.97L576.02 1006.7L576.24 1006.09L576.45 1006.53L576.66 1006.76L576.87 1006.59L577.09 1006.91L577.3 1006.74L577.51 1006.6L577.72 1006.84L577.93 1006.28L578.15 1006.57L578.36 1006.23L578.57 1006.71L578.78 1006.92L579 1006.78L579.21 1006.37L579.42 1006.37L579.63 1006.85L579.85 1006.98L580.06 1006.11L580.27 1006.7L580.48 1006.54L580.7 1006.99L580.91 1006.91L581.12 1006.28L581.33 1006.38L581.55 1006.74L581.76 1006.99L581.97 1005.95L582.18 1006.79L582.4 1006.66L582.61 1006.42L582.82 1006.89L583.03 1005.56L583.24 1006.81L583.46 1005.23L583.67 1006.59L583.88 1006.05L584.09 1006.83L584.31 1006.73L584.52 1006.71L584.73 1006.19L584.94 1006.61L585.16 1007L585.37 1006.5L585.58 1006.99L585.79 1006.71L586.01 1005.64L586.22 1006.77L586.43 1006.62L586.64 1006.66L586.86 1006.75L587.07 1006.28L587.28 1006.63L587.49 1006.59L587.7 1006.23L587.92 1006.17L588.13 1006.37L588.34 1006.5L588.55 1006.04L588.77 1006.31L588.98 1006.66L589.19 1006.31L589.4 1006.61L589.62 1006.74L589.83 1006.6L590.04 1006.29L590.25 1006.88L590.47 1006.85L590.68 1006.73L590.89 1006.52L591.1 1006.88L591.32 1006.29L591.53 1006.09L591.74 1006.89L591.95 1006.7L592.16 1006.98L592.38 1006.15L592.59 1006.32L592.8 1006.59L593.01 1006.11L593.23 1005.98L593.44 1006.76L593.65 1006.71L593.86 1006.71L594.08 1006.54L594.29 1006.68L594.5 1006.64L594.71 1006.5L594.93 1006.58L595.14 1006.46L595.35 1006.9L595.56 1006.94L595.78 1006.94L595.99 1005.85L596.2 1006.68L596.41 1006.73L596.62 1006.58L596.84 1006.17L597.05 1006.19L597.26 1006.62L597.47 1006.81L597.69 1006.5L597.9 1006.86L598.11 1006.82L598.32 1006.68L598.54 1006.64L598.75 1006.31L598.96 1006.81L599.17 1006.13L599.39 1006.79L599.6 1006.76L599.81 1006.85L600.02 1006.67L600.24 1006.74L600.45 1006.91L600.66 1006.95L600.87 1005.73L601.08 1006.9L601.3 1006.57L601.51 1006.6L601.72 1006.77L601.93 1006.86L602.15 1006.82L602.36 1006.79L602.57 1006.26L602.78 1006.84L603 1006.42L603.21 1006.69L603.42 1006.94L603.63 1006.71L603.85 1005.98L604.06 1006.64L604.27 1005.9L604.48 1006.57L604.7 1006.59L604.91 1006.64L605.12 1005.99L605.33 1006.63L605.54 1006.08L605.76 1006.21L605.97 1006.59L606.18 1006.77L606.39 1006L606.61 1006.88L606.82 1006.64L607.03 1006.24L607.24 1006.14L607.46 1006L607.67 1006.85L607.88 1006.79L608.09 1006.96L608.31 1006.58L608.52 1006.93L608.73 1006.92L608.94 1006.69L609.16 1006.51L609.37 1006.68L609.58 1006.64L609.79 1006.91L610.01 1006.31L610.22 1006.96L610.43 1006.36L610.64 1006.7L610.85 1006.34L611.07 1006.71L611.28 1006.96L611.49 1006.6L611.7 1006.72L611.92 1006.71L612.13 1006.7L612.34 1006.93L612.55 1006.87L612.77 1006.13L612.98 1006.99L613.19 1006.83L613.4 1006.7L613.62 1006.55L613.83 1006.31L614.04 1006.11L614.25 1006.42L614.47 1006.65L614.68 1006.98L614.89 1006.45L615.1 1005.13L615.31 1006.81L615.53 1006.85L615.74 1005.98L615.95 1006.89L616.16 1006.99L616.38 1006.46L616.59 1006.75L616.8 1006.9L617.01 1006.67L617.23 1006.44L617.44 1005.86L617.65 1005.98L617.86 1006.89L618.08 1006.8L618.29 1006.56L618.5 1006.63L618.71 1006.38L618.93 1006.85L619.14 1006.17L619.35 1006.26L619.56 1006.69L619.77 1006.74L619.99 1006.73L620.2 1006.94L620.41 1006.21L620.62 1006.73L620.84 1006.49L621.05 1006.41L621.26 1006.9L621.47 1006.77L621.69 1006.61L621.9 1006.56L622.11 1006.61L622.32 1006.9L622.54 1006.96L622.75 1006.76L622.96 1006.85L623.17 1006.79L623.39 1006.59L623.6 1006.39L623.81 1006.36L624.02 1006.82L624.23 1006.24L624.45 1006.87L624.66 1006.71L624.87 1006.81L625.08 1006.86L625.3 1006.89L625.51 1006.94L625.72 1006.49L625.93 1006.67L626.15 1006.3L626.36 1006.93L626.57 1006.52L626.78 1006.47L627 1006.66L627.21 1006.74L627.42 1006.69L627.63 1006.93L627.85 1006.52L628.06 1006.26L628.27 1006.58L628.48 1006.59L628.69 1006.68L628.91 1006.92L629.12 1006.72L629.33 1006.38L629.54 1005.92L629.76 1006.87L629.97 1006.33L630.18 1006.92L630.39 1006.53L630.61 1006.9L630.82 1006.43L631.03 1006.55L631.24 1006.03L631.46 1006.77L631.67 1006.67L631.88 1006.71L632.09 1006.37L632.31 1005.82L632.52 1006.69L632.73 1006.02L632.94 1006.88L633.15 1006.61L633.37 1006.26L633.58 1006.06L633.79 1006.47L634 1006.8L634.22 1005.54L634.43 1006.74L634.64 1006.23L634.85 1006.57L635.07 1006.79L635.28 1006.19L635.49 1006.74L635.7 1006.94L635.92 1006.78L636.13 1006.31L636.34 1005.66L636.55 1006.5L636.77 1006.83L636.98 1005.35L637.19 1006.77L637.4 1006.34L637.62 1006.85L637.83 1006.79L638.04 1006.74L638.25 1006.67L638.46 1006.74L638.68 1006.15L638.89 1006.37L639.1 1006.99L639.31 1006.83L639.53 1006.34L639.74 1006.62L639.95 1006.55L640.16 1005.95L640.38 1006.31L640.59 1006.59L640.8 1006.49L641.01 1006.57L641.23 1006.49L641.44 1006.78L641.65 1006.85L641.86 1006.71L642.08 1006.85L642.29 1006.96L642.5 1006.8L642.71 1006.65L642.92 1006.9L643.14 1007L643.35 1006.65L643.56 1006L643.77 1006.37L643.99 1006.92L644.2 1006.65L644.41 1006.74L644.62 992.47L644.84 825.33L645.05 830.78L645.26 996.1L645.47 997.01L645.69 997.31L645.9 1006.4L646.11 1006.99L646.32 1006.2L646.54 1006.37L646.75 1006.47L646.96 1006.5L647.17 1006.65L647.38 1002.63L647.6 1002.76L647.81 1006.74L648.02 1005.84L648.23 1006.26L648.45 1006.51L648.66 1006.75L648.87 1006.92L649.08 1006.77L649.3 1006.77L649.51 1006.75L649.72 1006.89L649.93 1006.29L650.15 1006.98L650.36 1006.57L650.57 1006.53L650.78 1004.31L651 1006.93L651.21 1006.67L651.42 1006.39L651.63 1006.58L651.84 1006.61L652.06 1006.79L652.27 1006.72L652.48 1006.35L652.69 1006.82L652.91 1006.62L653.12 1004.82L653.33 1006.48L653.54 1006.54L653.76 1006.45L653.97 1006.74L654.18 1006.43L654.39 1006.9L654.61 1006.87L654.82 1006.68L655.03 1006.63L655.24 1006.92L655.46 1006.81L655.67 1006.43L655.88 1006.88L656.09 1006.64L656.3 1006.51L656.52 1006.3L656.73 1006.34L656.94 1006.76L657.15 1006.9L657.37 1006.73L657.58 1006.65L657.79 1006.76L658 1005.74L658.22 1006.73L658.43 1005.23L658.64 1006.86L658.85 1005.79L659.07 1006.73L659.28 1006.2L659.49 1006.43L659.7 1006.63L659.92 1006.72L660.13 1006.57L660.34 1005.73L660.55 1006.77L660.76 1006.05L660.98 1005.98L661.19 1006.72L661.4 1006.36L661.61 1006.65L661.83 1006.56L662.04 1006.96L662.25 1006.38L662.46 1006.57L662.68 1006.6L662.89 1006.47L663.1 1005.91L663.31 1006.7L663.53 1006.72L663.74 1006.58L663.95 1006.87L664.16 1006.83L664.38 1005.39L664.59 1006.69L664.8 1006.43L665.01 1006.72L665.23 1006.7L665.44 1006.18L665.65 1006.34L665.86 1006.4L666.07 1006.59L666.29 1006.85L666.5 1006.65L666.71 1006.21L666.92 1006.69L667.14 1006.82L667.35 1006.67L667.56 1006.93L667.77 1006.85L667.99 1006.45L668.2 1006.84L668.41 1006.98L668.62 1006.85L668.84 1006.91L669.05 1006.13L669.26 1006.22L669.47 1006.76L669.69 1006.38L669.9 1006.62L670.11 1006.56L670.32 1006.36L670.53 1006.92L670.75 1006.37L670.96 1005.98L671.17 1006.73L671.38 1006.02L671.6 1006.63L671.81 1006.82L672.02 1006.33L672.23 1006.98L672.45 1006.81L672.66 1006.46L672.87 1006.92L673.08 1006.77L673.3 1006.46L673.51 1004.99L673.72 1006.93L673.93 1006.33L674.15 1006.93L674.36 1006.42L674.57 1006.9L674.78 1006.37L674.99 1005.9L675.21 1006.11L675.42 1006.88L675.63 1006.41L675.84 1006.79L676.06 1006.84L676.27 1006.64L676.48 1006.81L676.69 1006.94L676.91 1006.14L677.12 1007L677.33 1006.7L677.54 1006.99L677.76 1005.86L677.97 1006.52L678.18 1006.92L678.39 1006.5L678.61 1006.97L678.82 1006.95L679.03 1006.62L679.24 1006.88L679.45 1006.49L679.67 1006.18L679.88 1005.89L680.09 1006.62L680.3 1006.7L680.52 1006.77L680.73 1006.74L680.94 1006.91L681.15 1006.98L681.37 1006.14L681.58 1006.63L681.79 1006.64L682 1006.61L682.22 1006.72L682.43 1006.96L682.64 1006.45L682.85 1006.48L683.07 1006.54L683.28 1006.42L683.49 1006.33L683.7 1006.74L683.91 1006.35L684.13 1005.77L684.34 1006.7L684.55 1006.7L684.76 1006.4L684.98 1006.45L685.19 1006.69L685.4 1006.58L685.61 1006.78L685.83 1006.73L686.04 1005.58L686.25 1006.36L686.46 1006.48L686.68 1006.93L686.89 1006.43L687.1 1006.89L687.31 1006.84L687.53 1006.83L687.74 1006.75L687.95 1006.93L688.16 1006.71L688.38 1006.63L688.59 1006.04L688.8 1005.97L689.01 1006.02L689.22 1006.15L689.44 1006.65L689.65 1006.17L689.86 1006.76L690.07 1006.37L690.29 1006.77L690.5 1006.37L690.71 1006.25L690.92 1005.93L691.14 1006.51L691.35 1006.63L691.56 1006.65L691.77 1006.76L691.99 1006.58L692.2 1006.99L692.41 1005.87L692.62 1006.78L692.84 1006.66L693.05 1006.79L693.26 1006.06L693.47 1006.32L693.68 1006.45L693.9 1005.91L694.11 1006.36L694.32 1006.21L694.53 1006.7L694.75 1006.59L694.96 1006.4L695.17 1006.94L695.38 1006.06L695.6 1006.85L695.81 1006.65L696.02 1006.8L696.23 1006.39L696.45 1006.37L696.66 1006.97L696.87 1006.46L697.08 1006.97L697.3 1006.23L697.51 1006.73L697.72 1006.73L697.93 1006.22L698.14 1006.55L698.36 1006.66L698.57 1006.89L698.78 1006.43L698.99 1006.66L699.21 1006.86L699.42 1006.99L699.63 1006.81L699.84 1006.3L700.06 1006.08L700.27 1006.24L700.48 1006.76L700.69 1006.07L700.91 1006.23L701.12 1006.89L701.33 1005.81L701.54 1006.73L701.76 1006.61L701.97 1006.79L702.18 1006.36L702.39 1006.18L702.6 1006.71L702.82 1006.85L703.03 1006.98L703.24 1006.7L703.45 1006.78L703.67 1006.21L703.88 1006.37L704.09 1006.89L704.3 1006.69L704.52 1006.5L704.73 1006.67L704.94 1006.76L705.15 1006.38L705.37 1006.69L705.58 1005.77L705.79 1006.47L706 1006.43L706.22 1006.44L706.43 1006.67L706.64 1006.67L706.85 1006.18L707.06 1006.33L707.28 1006.7L707.49 1006.99L707.7 1006.63L707.91 1006.97L708.13 1006.96L708.34 1006.67L708.55 1006.33L708.76 1006.72L708.98 1006.58L709.19 1006.96L709.4 1006.74L709.61 1006.56L709.83 1006.7L710.04 1006.93L710.25 1006.68L710.46 1005.54L710.68 1004.82L710.89 1004.88L711.1 1006.75L711.31 1006.99L711.52 1006.56L711.74 1006.72L711.95 1006.12L712.16 1006.63L712.37 1006.94L712.59 1006.64L712.8 1006.16L713.01 1006.7L713.22 1006.55L713.44 1005.82L713.65 1006.03L713.86 1006.13L714.07 1006.55L714.29 1006.43L714.5 1006.88L714.71 1006.62L714.92 1006.96L715.14 1006.94L715.35 1005.85L715.56 1006.52L715.77 1006.51L715.98 1006.96L716.2 1005.86L716.41 1006.18L716.62 1005.49L716.83 1006.25L717.05 1006.87L717.26 1006.48L717.47 1006.96L717.68 1006.18L717.9 1006.66L718.11 1006.77L718.32 1006.82L718.53 1006.4L718.75 1006.79L718.96 1006.38L719.17 1006.39L719.38 1006.97L719.6 1006.86L719.81 1006.8L720.02 1006.91L720.23 1006.76L720.45 1006.06L720.66 1006.76L720.87 1006.91L721.08 1006.99L721.29 1006.29L721.51 1006.68L721.72 1006.32L721.93 1006.59L722.14 1006.93L722.36 1006.91L722.57 1005.01L722.78 1006.74L722.99 1006.61L723.21 1006.92L723.42 1006.86L723.63 1006.23L723.84 1006.57L724.06 1007L724.27 1006.96L724.48 1006.82L724.69 1006.4L724.91 1006.9L725.12 1006.74L725.33 1006.9L725.54 1006.35L725.75 1006.41L725.97 1006.94L726.18 1006.94L726.39 1006.94L726.6 1006.94L726.82 1006.45L727.03 1006.42L727.24 1006.62L727.45 1006.52L727.67 1006.33L727.88 1006.58L728.09 1006.78L728.3 1006.33L728.52 1006.81L728.73 1006.85L728.94 1006.95L729.15 1006.71L729.37 1006.73L729.58 1005.7L729.79 1006.96L730 1006.16L730.21 1006.52L730.43 1006.38L730.64 1006.14L730.85 1006.69L731.06 1006.78L731.28 1006.83L731.49 1006.83L731.7 1006.81L731.91 1006.6L732.13 1006.63L732.34 1006.87L732.55 1006.36L732.76 1006.44L732.98 1006.62L733.19 1006.69L733.4 1006.56L733.61 1006.31L733.83 1005.65L734.04 1006.77L734.25 1006.65L734.46 1006.52L734.67 1006.99L734.89 1006.61L735.1 1004.35L735.31 1006.64L735.52 1006.2L735.74 1006.66L735.95 1006.63L736.16 1006.67L736.37 1006.42L736.59 1006.32L736.8 1004.57L737.01 1006.27L737.22 1006.7L737.44 1006.92L737.65 1006.72L737.86 1006.96L738.07 1006.95L738.29 1006.86L738.5 1006.52L738.71 1006.64L738.92 1006.99L739.13 1006L739.35 1006.97L739.56 1006.36L739.77 1006.9L739.98 1006.69L740.2 1006.18L740.41 1006.88L740.62 1006.67L740.83 1006.55L741.05 1006.37L741.26 1006.13L741.47 1006.48L741.68 1006.82L741.9 1006.87L742.11 1006.04L742.32 1006.5L742.53 1006.69L742.75 1006.99L742.96 1006.19L743.17 1006.65L743.38 1006.42L743.6 1006.65L743.81 1006.81L744.02 1006.88L744.23 1006.41L744.44 1006.73L744.66 1006.26L744.87 1006.65L745.08 1006.88L745.29 1005.9L745.51 1005.95L745.72 1006.73L745.93 1006.95L746.14 1006.83L746.36 1006.76L746.57 1005.55L746.78 1006.35L746.99 1006.75L747.21 1006.66L747.42 1006.04L747.63 1006.84L747.84 1005.77L748.06 1006.98L748.27 1006.44L748.48 1006.63L748.69 1005.96L748.9 1006.65L749.12 1006L749.33 1006.61L749.54 1004.29L749.75 1006.71L749.97 1006.73L750.18 1006.61L750.39 1006.67L750.6 1006.35L750.82 1006.99L751.03 1006.55L751.24 1006.78L751.45 1006.13L751.67 1006.39L751.88 1006.42L752.09 1005.87L752.3 1006.57L752.52 1006.37L752.73 1006.99L752.94 1006.63L753.15 1006.64L753.36 1006.75L753.58 1006.93L753.79 1006.88L754 1006.6L754.21 1006.9L754.43 1006.39L754.64 1006.42L754.85 1005.86L755.06 1006.87L755.28 1006.5L755.49 1005.14L755.7 1006.49L755.91 1006.93L756.13 1006.88L756.34 1007L756.55 1006.79L756.76 1006.69L756.98 1006.75L757.19 1006.81L757.4 1006.68" fill="none" stroke="#008000" stroke-width="2.0" stroke-linejoin="round"/>
<text x="496.8" y="822.3" font-size="26.2">Methanol</text>
<path d="M645.56 843.52L656.94 834.18M557.85 943.9L571.35 932M547.37 994.68L528.93 976.72" stroke="#000" stroke-width="2.5" stroke-linecap="round" fill="none"/>
<text transform="translate(666 840) rotate(-45) scale(1 1.04)" font-size="26.3" text-anchor="start">435</text>
<text transform="translate(578.4 936.8) rotate(-45) scale(1 1.04)" font-size="26.3" text-anchor="start">229</text>
<text transform="translate(509.5 989.5) rotate(-45) scale(1 1.04)" font-size="26.3" text-anchor="start">207</text>
</svg>
</body></html>
